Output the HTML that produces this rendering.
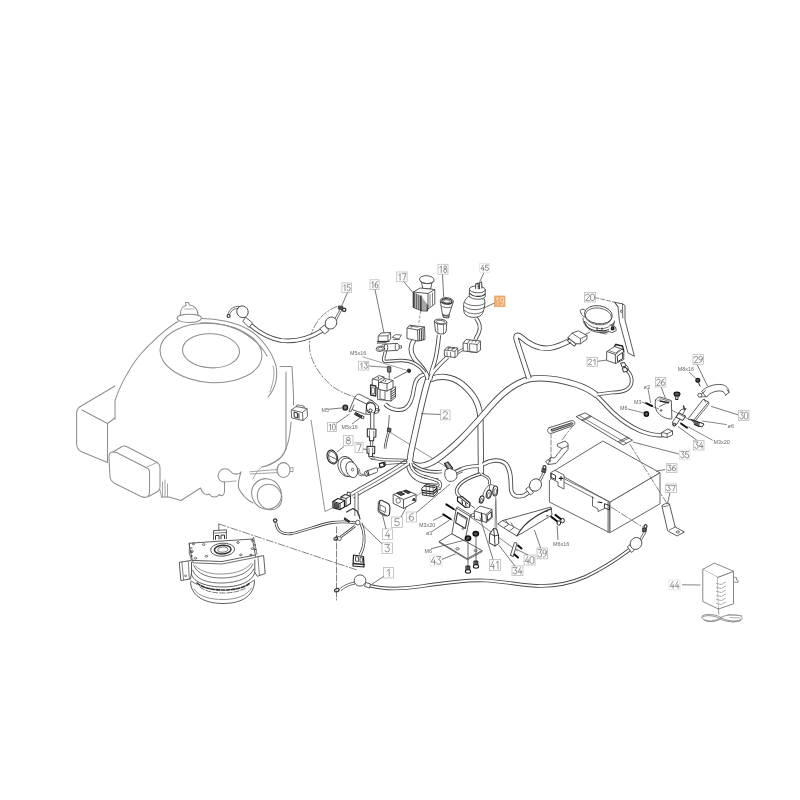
<!DOCTYPE html>
<html><head><meta charset="utf-8"><title>Wiring diagram</title>
<style>
html,body{margin:0;padding:0;background:#fff;}
svg{display:block;font-family:"Liberation Sans",sans-serif;}
</style></head><body>
<svg width="800" height="800" viewBox="0 0 800 800">
<defs><filter id="soft" x="0" y="0" width="800" height="800" filterUnits="userSpaceOnUse"><feGaussianBlur stdDeviation="0.35"/></filter></defs>
<rect width="800" height="800" fill="#fff"/>
<g filter="url(#soft)">
<path d="M178,321.5 C168,327 150,343 139,356 C128,370 118,390 115,401 L115,419" fill="none" stroke="#8e8e8e" stroke-width="1.05" stroke-linejoin="round" stroke-linecap="round" />
<path d="M202,318.5 C216,318.5 236,322 250,330.5 C262,338 272,352 276,366 C278,376 276,388 268,397" fill="none" stroke="#8e8e8e" stroke-width="1.05" stroke-linejoin="round" stroke-linecap="round" />
<path d="M200,323 C216,322 234,326 247,335 C256,341 263,348 267,356" fill="none" stroke="#8e8e8e" stroke-width="1.05" stroke-linejoin="round" stroke-linecap="round" />
<ellipse cx="211" cy="353" rx="51" ry="29.5" fill="none" stroke="#8e8e8e" stroke-width="1.05" transform="rotate(4 211 353)"/>
<ellipse cx="211" cy="350.8" rx="28.5" ry="17" fill="none" stroke="#8e8e8e" stroke-width="1.05" transform="rotate(3 211 350.8)"/>
<path d="M177,318 C177,324 201,324 201.5,318 C201.5,313 177,313 177,318 Z" fill="none" stroke="#8e8e8e" stroke-width="1.05" stroke-linejoin="round" stroke-linecap="round" />
<path d="M180.5,315 C180,309 183,306 186,305.5 L185.5,302.6 L188.5,302.5 L189.5,305 C194,305.5 198,309 198,314.5" fill="none" stroke="#8e8e8e" stroke-width="1.05" stroke-linejoin="round" stroke-linecap="round" />
<path d="M184,309 L194,309" fill="none" stroke="#8e8e8e" stroke-width="0.7" stroke-linejoin="round" stroke-linecap="round" />
<path d="M280,366.5 L292,366.5 L293.5,395 L293.5,405" fill="none" stroke="#8e8e8e" stroke-width="1.05" stroke-linejoin="round" stroke-linecap="round" />
<path d="M286,372 L286,449" fill="none" stroke="#8e8e8e" stroke-width="1.05" stroke-linejoin="round" stroke-linecap="round" />
<path d="M270,392 C274,380 275,372 273,366" fill="none" stroke="#8e8e8e" stroke-width="0.8" stroke-linejoin="round" stroke-linecap="round" />
<path d="M291,422 C290,440 286,452 280,458 C274,463 268,466 262,467" fill="none" stroke="#8e8e8e" stroke-width="1.05" stroke-linejoin="round" stroke-linecap="round" />
<path d="M286,449 C284,456 278,462 270,464" fill="none" stroke="#8e8e8e" stroke-width="0.8" stroke-linejoin="round" stroke-linecap="round" />
<path d="M115,386 L82,405.5 C78,407.5 76.6,410 76.6,413 L76.6,443 C76.6,448 78.5,450.5 82,452 L107.5,462.5" fill="none" stroke="#8e8e8e" stroke-width="1.05" stroke-linejoin="round" stroke-linecap="round" />
<path d="M82,410 L107.5,423.5 L107.5,462.5" fill="none" stroke="#8e8e8e" stroke-width="1.05" stroke-linejoin="round" stroke-linecap="round" />
<path d="M107.5,423.5 L115,418" fill="none" stroke="#8e8e8e" stroke-width="1.05" stroke-linejoin="round" stroke-linecap="round" />
<path d="M112.5,452 C110,452 109,454 109,457 L110,477 C110.5,480 112,482 115,483.5 L141,496.5 C146,498.5 149.5,497 149.5,492 L149.5,472 C149.5,470 148.5,468.5 146,467.5 L116.5,452.5 C115,452 113.5,452 112.5,452 Z" fill="none" stroke="#8e8e8e" stroke-width="1.05" stroke-linejoin="round" stroke-linecap="round" />
<path d="M113,452 L122,446.5 C123.5,445.8 125,445.8 126.5,446.5 L156.5,462 C159,463.5 160,465.5 160,468 L160,487 C160,490 158,491.5 156,492.5 L148.5,496.5" fill="none" stroke="#8e8e8e" stroke-width="1.05" stroke-linejoin="round" stroke-linecap="round" />
<path d="M146,467.5 L157,462.5" fill="none" stroke="#8e8e8e" stroke-width="0.8" stroke-linejoin="round" stroke-linecap="round" />
<path d="M160,489.5 L161.5,497 M162.5,482 L162.5,497 M165,480 L165,497 M167.5,484 L167.5,497" fill="none" stroke="#8e8e8e" stroke-width="0.8" stroke-linejoin="round" stroke-linecap="round" />
<path d="M161.5,497 L169,497 L181,500.5 L200.5,488 C202,493 206,496 209,494 C212,498 217,498 219,494.5 C222,497 225,495 224.5,490 L224.5,482" fill="none" stroke="#8e8e8e" stroke-width="1.05" stroke-linejoin="round" stroke-linecap="round" />
<path d="M224.5,482 C219,482 216,476 220,471 C222,468 228,468 230,471 C233,475 239,475 241,472" fill="none" stroke="#8e8e8e" stroke-width="1.05" stroke-linejoin="round" stroke-linecap="round" />
<path d="M241,472 C239,478 238,484 238.5,488 C242,495 247,500 253,503" fill="none" stroke="#8e8e8e" stroke-width="1.05" stroke-linejoin="round" stroke-linecap="round" />
<path d="M224.5,482 L236,481" fill="none" stroke="#8e8e8e" stroke-width="0.8" stroke-linejoin="round" stroke-linecap="round" />
<path d="M262,467 C258,470 255,474 253,479" fill="none" stroke="#8e8e8e" stroke-width="0.8" stroke-linejoin="round" stroke-linecap="round" />
<ellipse cx="266.5" cy="494" rx="14.6" ry="15.6" fill="none" stroke="#8e8e8e" stroke-width="1.05" transform="rotate(-35 266.5 494)"/>
<ellipse cx="269.6" cy="497" rx="11.8" ry="13.2" fill="none" stroke="#8e8e8e" stroke-width="1.05" transform="rotate(-35 269.6 497)"/>
<path d="M255.5,484 C258,480 262,478.5 266,478.5" fill="none" stroke="#8e8e8e" stroke-width="0.8" stroke-linejoin="round" stroke-linecap="round" />
<ellipse cx="283.5" cy="470" rx="6.6" ry="7.4" fill="none" stroke="#8e8e8e" stroke-width="1.05"/>
<path d="M250,471.8 L277,469.5 M250,474 L277,472.6" fill="none" stroke="#8e8e8e" stroke-width="0.8" stroke-linejoin="round" stroke-linecap="round" />
<path d="M290,468 L293,467.5 L293,471.5 L290,471.5" fill="none" stroke="#8e8e8e" stroke-width="0.8" stroke-linejoin="round" stroke-linecap="round" />
<path d="M279,464.5 C277,467 277,473 279,475.5" fill="none" stroke="#8e8e8e" stroke-width="0.7" stroke-linejoin="round" stroke-linecap="round" />
<path d="M190.6,582 C190.6,594 202,603.5 223,603.5 C244,603.5 254.5,594 254.5,581" fill="none" stroke="#4c4c4c" stroke-width="0.9" stroke-linejoin="round" stroke-linecap="round" />
<path d="M194,589 C199,597 211,599.5 223,599.5 C237,599.5 247,595.5 251.5,588" fill="none" stroke="#777" stroke-width="0.8" stroke-linejoin="round" stroke-linecap="round" />
<path d="M191.5,562 L191.5,574 C193,582 207,587 223,587 C240,587 253,581 254.8,572 L254.8,560" fill="none" stroke="#4c4c4c" stroke-width="0.9" stroke-linejoin="round" stroke-linecap="round" />
<path d="M193.5,565 C197,574 209,578.5 223,578 C238,577.5 249,573 253,564" fill="none" stroke="#4c4c4c" stroke-width="0.8" stroke-linejoin="round" stroke-linecap="round" />
<path d="M192.5,570 C196,579.5 208,583.5 223,583 C238,582.5 250,578 253.8,569" fill="none" stroke="#4c4c4c" stroke-width="0.8" stroke-linejoin="round" stroke-linecap="round" />
<path d="M195.5,566 C201,572 212,574.5 223,574 C236,573.5 246,570 251,563.5" fill="none" stroke="#666" stroke-width="0.7" stroke-linejoin="round" stroke-linecap="round" />
<path d="M197,583 C203,588 213,590 223,590 C234,590 244,588 250,583" fill="none" stroke="#333" stroke-width="1.6" stroke-linejoin="round" stroke-linecap="round" stroke-dasharray="3.5 1.6" />
<path d="M200,587 C206,591.5 214,593 223,593 C233,593 241,591 247,587.5" fill="none" stroke="#555" stroke-width="0.8" stroke-linejoin="round" stroke-linecap="round" stroke-dasharray="5 2" />
<path d="M191,581 L197,584.5 M254.5,580 L249,583.5" fill="none" stroke="#4c4c4c" stroke-width="0.8" stroke-linejoin="round" stroke-linecap="round" />
<path d="M189.3,543.2 L252.5,539 L255.3,555 L222,561.5 L192.7,560.4 Z" fill="#fff" stroke="#4c4c4c" stroke-width="0.9" stroke-linejoin="round" stroke-linecap="round" />
<path d="M192.7,560.4 L192.9,562.8 L222,564 L255.6,557.4 L255.3,555" fill="none" stroke="#4c4c4c" stroke-width="0.8" stroke-linejoin="round" stroke-linecap="round" />
<ellipse cx="222.6" cy="549.7" rx="12" ry="6.5" fill="none" stroke="#4c4c4c" stroke-width="0.9" transform="rotate(-3 222.6 549.7)"/>
<ellipse cx="222.7" cy="549.6" rx="8.3" ry="4.4" fill="none" stroke="#333" stroke-width="1.5" transform="rotate(-3 222.7 549.6)"/>
<ellipse cx="222.8" cy="549.6" rx="5" ry="2.6" fill="none" stroke="#4c4c4c" stroke-width="0.8" transform="rotate(-3 222.8 549.6)"/>
<ellipse cx="203.7" cy="544.6" rx="1.3" ry="0.9" fill="none" stroke="#4c4c4c" stroke-width="0.8"/>
<ellipse cx="238" cy="542.5" rx="1.3" ry="0.9" fill="none" stroke="#4c4c4c" stroke-width="0.8"/>
<ellipse cx="193.4" cy="543.9" rx="1.3" ry="0.9" fill="none" stroke="#4c4c4c" stroke-width="0.8"/>
<ellipse cx="252.5" cy="540.5" rx="1.3" ry="0.9" fill="none" stroke="#4c4c4c" stroke-width="0.8"/>
<ellipse cx="192" cy="551.5" rx="1.3" ry="0.9" fill="none" stroke="#4c4c4c" stroke-width="0.8"/>
<ellipse cx="252.5" cy="548.7" rx="1.3" ry="0.9" fill="none" stroke="#4c4c4c" stroke-width="0.8"/>
<ellipse cx="206.4" cy="556.3" rx="1.3" ry="0.9" fill="none" stroke="#4c4c4c" stroke-width="0.8"/>
<ellipse cx="240.8" cy="554.9" rx="1.3" ry="0.9" fill="none" stroke="#4c4c4c" stroke-width="0.8"/>
<ellipse cx="195.5" cy="558.3" rx="1.3" ry="0.9" fill="none" stroke="#4c4c4c" stroke-width="0.8"/>
<ellipse cx="251" cy="555" rx="1.3" ry="0.9" fill="none" stroke="#4c4c4c" stroke-width="0.8"/>
<path d="M213.5,539.6 L213.5,530.6 L226.4,529.8 L226.4,538.8" fill="#fff" stroke="#4c4c4c" stroke-width="0.9" stroke-linejoin="round" stroke-linecap="round" />
<path d="M213.5,533.2 L226.4,532.4" fill="none" stroke="#4c4c4c" stroke-width="0.7" stroke-linejoin="round" stroke-linecap="round" />
<path d="M215.5,539.3 L215.5,535.5 L219,535.5 L219,539 M221,538.8 L221,535.2 L224.5,535 L224.5,538.6" fill="none" stroke="#333" stroke-width="1" stroke-linejoin="round" stroke-linecap="round" />
<path d="M218.8,530.3 L218.8,524.2" fill="none" stroke="#4c4c4c" stroke-width="0.8" stroke-linejoin="round" stroke-linecap="round" />
<path d="M191,560.5 L179.3,562.3 L180.8,580.5 L190.5,579 L191.3,574" fill="none" stroke="#4c4c4c" stroke-width="0.9" stroke-linejoin="round" stroke-linecap="round" />
<path d="M182,562.5 L183.5,579.8 M188.3,561.5 L189.3,578.8" fill="none" stroke="#4c4c4c" stroke-width="0.7" stroke-linejoin="round" stroke-linecap="round" />
<ellipse cx="185.6" cy="575.8" rx="1" ry="1" fill="none" stroke="#4c4c4c" stroke-width="0.7"/>
<path d="M189.6,543.5 L189.2,553 L191.5,560" fill="none" stroke="#4c4c4c" stroke-width="0.8" stroke-linejoin="round" stroke-linecap="round" />
<path d="M190.8,548 L192,548 M190.8,552 L192,552 M191.3,556 L192.4,556" fill="none" stroke="#333" stroke-width="0.9" stroke-linejoin="round" stroke-linecap="round" />
<path d="M256,557 L263.6,555.6 L265.2,573.5 L257.4,576.3 L254.8,572.5" fill="none" stroke="#4c4c4c" stroke-width="0.9" stroke-linejoin="round" stroke-linecap="round" />
<path d="M258,557 L259.4,575" fill="none" stroke="#4c4c4c" stroke-width="0.7" stroke-linejoin="round" stroke-linecap="round" />
<path d="M252.5,539 L253.6,537 L257,554.5" fill="none" stroke="#4c4c4c" stroke-width="0.7" stroke-linejoin="round" stroke-linecap="round" />
<path d="M254.4,545 L255.6,545 M255,549.5 L256.2,549.5" fill="none" stroke="#333" stroke-width="0.9" stroke-linejoin="round" stroke-linecap="round" />
<path d="M337,306.5 C323,312 313,323 309.5,341 C308,358 318,374 332,386 C340,392 350,396 358,397.5" fill="none" stroke="#666" stroke-width="0.8" stroke-linejoin="round" stroke-linecap="round" stroke-dasharray="7 2 1.5 2" />
<path d="M219,524 L357,570" fill="none" stroke="#666" stroke-width="0.8" stroke-linejoin="round" stroke-linecap="round" stroke-dasharray="7 2 1.5 2" />
<path d="M336.5,527 L336.5,600" fill="none" stroke="#666" stroke-width="0.8" stroke-linejoin="round" stroke-linecap="round" stroke-dasharray="6 2" />
<path d="M574,424 L562,440" fill="none" stroke="#666" stroke-width="0.8" stroke-linejoin="round" stroke-linecap="round" stroke-dasharray="7 2 1.5 2" />
<path d="M551,433 L551,457" fill="none" stroke="#666" stroke-width="0.8" stroke-linejoin="round" stroke-linecap="round" stroke-dasharray="5 2" />
<path d="M595,297.5 L616,302.5" fill="none" stroke="#666" stroke-width="0.8" stroke-linejoin="round" stroke-linecap="round" stroke-dasharray="4 2" />
<path d="M496,500 L497,535" fill="none" stroke="#666" stroke-width="0.7" stroke-linejoin="round" stroke-linecap="round" />
<path d="M311,420 L325,511.5 L334.5,507" fill="none" stroke="#777" stroke-width="0.8" stroke-linejoin="round" stroke-linecap="round" />
<path d="M389.6,432 L448,468" fill="none" stroke="#666" stroke-width="0.7" stroke-linejoin="round" stroke-linecap="round" />
<path d="M249.5,324 C257,331 268,338 281,340.5 C295,342 310,338 322,330.5" fill="none" stroke="#4a4a4a" stroke-width="4.6" stroke-linecap="butt" stroke-linejoin="round"/>
<path d="M249.5,324 C257,331 268,338 281,340.5 C295,342 310,338 322,330.5" fill="none" stroke="#fff" stroke-width="2.8" stroke-linecap="butt" stroke-linejoin="round"/>
<path d="M246,317.5 L252.5,323 L249,327.5 L243,321.5 Z" fill="#fff" stroke="#4a4a4a" stroke-width="0.9" stroke-linejoin="round" stroke-linecap="round" />
<ellipse cx="242.5" cy="311.8" rx="5.6" ry="6" fill="#fff" stroke="#4a4a4a" stroke-width="0.9" transform="rotate(-35 242.5 311.8)"/>
<path d="M238,308.5 C234,308 231,311 229.5,314.5 M239.5,306.5 C234,305.5 229.5,309 228,314" fill="none" stroke="#4a4a4a" stroke-width="0.8" stroke-linejoin="round" stroke-linecap="round" />
<ellipse cx="228.6" cy="316" rx="1.5" ry="1.5" fill="none" stroke="#333" stroke-width="1.2"/>
<path d="M320,329 L324.5,334 L329,330.5 L324.5,325.5 Z" fill="#fff" stroke="#4a4a4a" stroke-width="0.9" stroke-linejoin="round" stroke-linecap="round" />
<ellipse cx="331" cy="323" rx="5.6" ry="6.2" fill="#fff" stroke="#4a4a4a" stroke-width="0.9" transform="rotate(35 331 323)"/>
<path d="M335,318.5 L340.5,308.5 M336.8,319.5 L342,309.5" fill="none" stroke="#4a4a4a" stroke-width="0.8" stroke-linejoin="round" stroke-linecap="round" />
<path d="M339,306 L343,306.5 L342.5,309.5 L338.6,309 Z" fill="#555" stroke="#333" stroke-width="0.9" stroke-linejoin="round" stroke-linecap="round" />
<ellipse cx="344.2" cy="309.8" rx="1.7" ry="1.7" fill="none" stroke="#333" stroke-width="1.3"/>
<path d="M430,379.5 C440,375 452,376 462,384 C474,394 480,404 480.5,420 L481,476" fill="none" stroke="#4a4a4a" stroke-width="6.2" stroke-linecap="butt" stroke-linejoin="round"/>
<path d="M430,379.5 C440,375 452,376 462,384 C474,394 480,404 480.5,420 L481,476" fill="none" stroke="#fff" stroke-width="4.4" stroke-linecap="butt" stroke-linejoin="round"/>
<path d="M663,435 C648,436.5 630,428 614,413.5 C606,406 601,399.5 594,393.5" fill="none" stroke="#4a4a4a" stroke-width="4.6" stroke-linecap="butt" stroke-linejoin="round"/>
<path d="M663,435 C648,436.5 630,428 614,413.5 C606,406 601,399.5 594,393.5" fill="none" stroke="#fff" stroke-width="2.8" stroke-linecap="butt" stroke-linejoin="round"/>
<path d="M597,395.5 C590,390 584,387 576,384.5 C560,379.5 545,376.5 530,379 C510,383.5 495,401 484,414 C470,430 455,447 436,460 C427,466 417,468 410,463" fill="none" stroke="#4a4a4a" stroke-width="6.5" stroke-linecap="butt" stroke-linejoin="round"/>
<path d="M428.5,379 C424,391 417,425 411,452 L409.5,463" fill="none" stroke="#4a4a4a" stroke-width="6.5" stroke-linecap="butt" stroke-linejoin="round"/>
<path d="M409.5,460 C408,470 414,478 424,480.5 L438,481.5" fill="none" stroke="#4a4a4a" stroke-width="6.5" stroke-linecap="butt" stroke-linejoin="round"/>
<path d="M597,395.5 C590,390 584,387 576,384.5 C560,379.5 545,376.5 530,379 C510,383.5 495,401 484,414 C470,430 455,447 436,460 C427,466 417,468 410,463" fill="none" stroke="#fff" stroke-width="4.7" stroke-linecap="butt" stroke-linejoin="round"/>
<path d="M428.5,379 C424,391 417,425 411,452 L409.5,463" fill="none" stroke="#fff" stroke-width="4.7" stroke-linecap="butt" stroke-linejoin="round"/>
<path d="M409.5,460 C408,470 414,478 424,480.5 L438,481.5" fill="none" stroke="#fff" stroke-width="4.7" stroke-linecap="butt" stroke-linejoin="round"/>
<path d="M529,378.5 L516.5,340 C515,335 517.5,334 521,337 C530,345 540,349.5 550,348 C559,346.5 565,343 570,340.5" fill="none" stroke="#4a4a4a" stroke-width="5.6" stroke-linecap="butt" stroke-linejoin="round"/>
<path d="M529,378.5 L516.5,340 C515,335 517.5,334 521,337 C530,345 540,349.5 550,348 C559,346.5 565,343 570,340.5" fill="none" stroke="#fff" stroke-width="3.8" stroke-linecap="butt" stroke-linejoin="round"/>
<path d="M414.5,339 C410.5,345 410,352 414,358 C418,364.5 426,369 428.2,379.5" fill="none" stroke="#4a4a4a" stroke-width="5" stroke-linecap="butt" stroke-linejoin="round"/>
<path d="M414.5,339 C410.5,345 410,352 414,358 C418,364.5 426,369 428.2,379.5" fill="none" stroke="#fff" stroke-width="3.2" stroke-linecap="butt" stroke-linejoin="round"/>
<path d="M439,335 C438,345 437,355 434,364 C432.5,368 431.5,371 431,374" fill="none" stroke="#4a4a4a" stroke-width="4.3" stroke-linecap="butt" stroke-linejoin="round"/>
<path d="M447.5,357 C443,361 438,366 433.5,371.5 C431.5,374 430.5,377 430,380" fill="none" stroke="#4a4a4a" stroke-width="4.3" stroke-linecap="butt" stroke-linejoin="round"/>
<path d="M439,335 C438,345 437,355 434,364 C432.5,368 431.5,371 431,374" fill="none" stroke="#fff" stroke-width="2.5" stroke-linecap="butt" stroke-linejoin="round"/>
<path d="M447.5,357 C443,361 438,366 433.5,371.5 C431.5,374 430.5,377 430,380" fill="none" stroke="#fff" stroke-width="2.5" stroke-linecap="butt" stroke-linejoin="round"/>
<path d="M385,404 C390,409.5 399,411.5 405,408.5 C411,405 413,396 414,388 C415,381 418,376 424,374.5" fill="none" stroke="#4a4a4a" stroke-width="4.2" stroke-linecap="butt" stroke-linejoin="round"/>
<path d="M385,404 C390,409.5 399,411.5 405,408.5 C411,405 413,396 414,388 C415,381 418,376 424,374.5" fill="none" stroke="#fff" stroke-width="2.4000000000000004" stroke-linecap="butt" stroke-linejoin="round"/>
<path d="M385.5,351 C384.5,356 382,360.5 385,361.5 L400,360.5 C410,360 419,364 425,373" fill="none" stroke="#4a4a4a" stroke-width="3.4" stroke-linecap="butt" stroke-linejoin="round"/>
<path d="M385.5,351 C384.5,356 382,360.5 385,361.5 L400,360.5 C410,360 419,364 425,373" fill="none" stroke="#fff" stroke-width="1.5999999999999999" stroke-linecap="butt" stroke-linejoin="round"/>
<path d="M476,318 C479,322 481,327 479,332 C478,335 476,337 475.5,339.5" fill="none" stroke="#4a4a4a" stroke-width="4" stroke-linecap="butt" stroke-linejoin="round"/>
<path d="M476,318 C479,322 481,327 479,332 C478,335 476,337 475.5,339.5" fill="none" stroke="#fff" stroke-width="2.2" stroke-linecap="butt" stroke-linejoin="round"/>
<path d="M457.5,351.5 L464,347.5 M457.5,354 L464,350" fill="none" stroke="#4a4a4a" stroke-width="0.8" stroke-linejoin="round" stroke-linecap="round" />
<path d="M623.5,368 C628,370 633,376 631.5,383 C630,390 622,392.5 612,392.5 L597,394.5" fill="none" stroke="#4a4a4a" stroke-width="3.6" stroke-linecap="butt" stroke-linejoin="round"/>
<path d="M623.5,368 C628,370 633,376 631.5,383 C630,390 622,392.5 612,392.5 L597,394.5" fill="none" stroke="#fff" stroke-width="1.8" stroke-linecap="butt" stroke-linejoin="round"/>
<path d="M407,462.5 C396,470 376,482 362,489.5 L352,495.5" fill="none" stroke="#4a4a4a" stroke-width="7" stroke-linecap="butt" stroke-linejoin="round"/>
<path d="M407,462.5 C396,470 376,482 362,489.5 L352,495.5" fill="none" stroke="#fff" stroke-width="5.2" stroke-linecap="butt" stroke-linejoin="round"/>
<path d="M407,462.5 C396,470 376,482 362,489.5 L352,495.5" fill="none" stroke="#4a4a4a" stroke-width="0.8" stroke-linejoin="round" stroke-linecap="round" />
<path d="M407,459.5 C395,458 382,460 372,456 M407,461.5 C395,460.5 382,462.5 371,458.5 M406,463.5 C396,463 388,465 384,464.5" fill="none" stroke="#4a4a4a" stroke-width="0.8" stroke-linejoin="round" stroke-linecap="round" />
<path d="M381,463 L385,462 L385.5,465.5 L381.5,466.5 Z" fill="#555" stroke="#333" stroke-width="0.9" stroke-linejoin="round" stroke-linecap="round" />
<path d="M380,466 C378,468 377,470 376.5,471.5" fill="none" stroke="#4a4a4a" stroke-width="0.8" stroke-linejoin="round" stroke-linecap="round" />
<path d="M412,463.5 C418,470 430,473 442,471.5" fill="none" stroke="#4a4a4a" stroke-width="3.6" stroke-linecap="butt" stroke-linejoin="round"/>
<path d="M412,463.5 C418,470 430,473 442,471.5" fill="none" stroke="#fff" stroke-width="1.8" stroke-linecap="butt" stroke-linejoin="round"/>
<path d="M480.5,474 C470,477 458,482 456.5,491 C456.5,495 460,497 463,499.5" fill="none" stroke="#4a4a4a" stroke-width="3.6" stroke-linecap="butt" stroke-linejoin="round"/>
<path d="M480.5,474 C470,477 458,482 456.5,491 C456.5,495 460,497 463,499.5" fill="none" stroke="#fff" stroke-width="1.8" stroke-linecap="butt" stroke-linejoin="round"/>
<path d="M479,466 C470,466 462,468 455,472" fill="none" stroke="#4a4a4a" stroke-width="4.2" stroke-linecap="butt" stroke-linejoin="round"/>
<path d="M479,466 C470,466 462,468 455,472" fill="none" stroke="#fff" stroke-width="2.4000000000000004" stroke-linecap="butt" stroke-linejoin="round"/>
<path d="M481,473.5 C484,476.5 488.5,476 489.3,480 L489.7,484.5" fill="none" stroke="#4a4a4a" stroke-width="2.8" stroke-linecap="butt" stroke-linejoin="round"/>
<path d="M481,473.5 C484,476.5 488.5,476 489.3,480 L489.7,484.5" fill="none" stroke="#fff" stroke-width="1.1999999999999997" stroke-linecap="butt" stroke-linejoin="round"/>
<path d="M489,485 C486,488 483.5,491 482.8,495.5 M489.7,485 L489.2,490 M490.5,484.8 C493,484.5 495,485.5 495.6,487" fill="none" stroke="#4a4a4a" stroke-width="0.8" stroke-linejoin="round" stroke-linecap="round" />
<ellipse cx="481.6" cy="499.5" rx="2.1" ry="3.7" fill="#fff" stroke="#333" stroke-width="1.1" transform="rotate(18 481.6 499.5)"/>
<ellipse cx="481.6" cy="500.3" rx="1.0" ry="1.9000000000000001" fill="none" stroke="#4a4a4a" stroke-width="0.7" transform="rotate(18 481.6 500.3)"/>
<ellipse cx="488.8" cy="494.2" rx="2.4" ry="4.2" fill="#fff" stroke="#333" stroke-width="1.1" transform="rotate(12 488.8 494.2)"/>
<ellipse cx="488.8" cy="495.0" rx="1.2999999999999998" ry="2.4000000000000004" fill="none" stroke="#4a4a4a" stroke-width="0.7" transform="rotate(12 488.8 495.0)"/>
<ellipse cx="495.2" cy="491" rx="2.4" ry="5" fill="#fff" stroke="#333" stroke-width="1.1" transform="rotate(6 495.2 491)"/>
<ellipse cx="495.2" cy="491.8" rx="1.2999999999999998" ry="3.2" fill="none" stroke="#4a4a4a" stroke-width="0.7" transform="rotate(6 495.2 491.8)"/>
<path d="M483,464.5 C490,460 500,458.5 506,464 C511,470 511,480 511,488 C511,496.5 518,497.5 524,495.5 L528.5,492.5" fill="none" stroke="#4a4a4a" stroke-width="4.4" stroke-linecap="butt" stroke-linejoin="round"/>
<path d="M483,464.5 C490,460 500,458.5 506,464 C511,470 511,480 511,488 C511,496.5 518,497.5 524,495.5 L528.5,492.5" fill="none" stroke="#fff" stroke-width="2.6000000000000005" stroke-linecap="butt" stroke-linejoin="round"/>
<path d="M526,489.5 L530.5,495 L533.5,492.5 L529,487 Z" fill="#fff" stroke="#4a4a4a" stroke-width="0.9" stroke-linejoin="round" stroke-linecap="round" />
<ellipse cx="535.5" cy="485" rx="5.8" ry="6.4" fill="#fff" stroke="#4a4a4a" stroke-width="0.9" transform="rotate(35 535.5 485)"/>
<path d="M539,480 L543.5,471.5 M540.8,481 L545,472.5" fill="none" stroke="#4a4a4a" stroke-width="0.8" stroke-linejoin="round" stroke-linecap="round" />
<path d="M542.5,468.5 L546,469 L545.5,472.5 L542,472 Z" fill="#555" stroke="#333" stroke-width="0.9" stroke-linejoin="round" stroke-linecap="round" />
<ellipse cx="544.5" cy="467.5" rx="1.5" ry="1.8" fill="none" stroke="#333" stroke-width="1.2"/>
<path d="M630.5,549 C620,557 600,570 585,577 C570,583.5 556,586 541,586 C525,586 505,581.5 485,580.5 C465,579.5 440,583.5 420,586.5 C400,589.5 382,589 369,585.5" fill="none" stroke="#4a4a4a" stroke-width="3.6" stroke-linecap="butt" stroke-linejoin="round"/>
<path d="M630.5,549 C620,557 600,570 585,577 C570,583.5 556,586 541,586 C525,586 505,581.5 485,580.5 C465,579.5 440,583.5 420,586.5 C400,589.5 382,589 369,585.5" fill="none" stroke="#fff" stroke-width="1.8" stroke-linecap="butt" stroke-linejoin="round"/>
<path d="M627.5,547 L631.5,552.5 L634.5,550 L630.5,544.8 Z" fill="#fff" stroke="#4a4a4a" stroke-width="0.9" stroke-linejoin="round" stroke-linecap="round" />
<ellipse cx="636" cy="543.5" rx="5.6" ry="6.2" fill="#fff" stroke="#4a4a4a" stroke-width="0.9" transform="rotate(35 636 543.5)"/>
<path d="M640,539 L644,531.5 M641.6,540 L645.8,532.5" fill="none" stroke="#4a4a4a" stroke-width="0.8" stroke-linejoin="round" stroke-linecap="round" />
<path d="M643,528 L646.5,528.5 L646,532 L642.6,531.5 Z" fill="#555" stroke="#333" stroke-width="0.9" stroke-linejoin="round" stroke-linecap="round" />
<ellipse cx="645.5" cy="526.5" rx="1.4" ry="1.9" fill="none" stroke="#333" stroke-width="1.2" transform="rotate(20 645.5 526.5)"/>
<path d="M366,582.5 L370.5,584 L369.5,588 L365,586.5 Z" fill="#fff" stroke="#4a4a4a" stroke-width="0.9" stroke-linejoin="round" stroke-linecap="round" />
<ellipse cx="360" cy="580.5" rx="5.8" ry="5.6" fill="#fff" stroke="#4a4a4a" stroke-width="0.9"/>
<path d="M354.5,582 C348,583 343,586 340,588.5 M355,584 C349,585 344,588 341,590.5" fill="none" stroke="#4a4a4a" stroke-width="0.8" stroke-linejoin="round" stroke-linecap="round" />
<ellipse cx="336.8" cy="590.2" rx="2.3" ry="1.6" fill="none" stroke="#333" stroke-width="1.2" transform="rotate(-20 336.8 590.2)"/>
<ellipse cx="275.2" cy="520.6" rx="1.7" ry="1.7" fill="none" stroke="#333" stroke-width="1.3"/>
<path d="M276,523 C277,531 282,535 292,533.5 C305,531 318,525 332,522.5 C340,521.5 348,521.5 356,523" fill="none" stroke="#4a4a4a" stroke-width="2.8" stroke-linecap="butt" stroke-linejoin="round"/>
<path d="M276,523 C277,531 282,535 292,533.5 C305,531 318,525 332,522.5 C340,521.5 348,521.5 356,523" fill="none" stroke="#fff" stroke-width="1.1999999999999997" stroke-linecap="butt" stroke-linejoin="round"/>
<path d="M421.5,282 L422.8,288.5 L430.6,289 L432,282.5" fill="#fff" stroke="#4a4a4a" stroke-width="0.9" stroke-linejoin="round" stroke-linecap="round" />
<ellipse cx="426.8" cy="279.6" rx="7.3" ry="3.9" fill="#fff" stroke="#4a4a4a" stroke-width="0.9" transform="rotate(4 426.8 279.6)"/>
<path d="M420,281 C421,284 432,285 434,281.5" fill="none" stroke="#4a4a4a" stroke-width="0.8" stroke-linejoin="round" stroke-linecap="round" />
<path d="M413.5,292 L420,288 L434.8,289.5 L434.8,304 L428,309 L413.5,307.5 Z" fill="#fff" stroke="#4a4a4a" stroke-width="0.9" stroke-linejoin="round" stroke-linecap="round" />
<path d="M413.5,292 L428,293.5 L434.8,289.5 M428,293.5 L428,309" fill="none" stroke="#4a4a4a" stroke-width="0.9" stroke-linejoin="round" stroke-linecap="round" />
<path d="M413.5,292 L413.5,307.5 L421,310.5 L421,296" fill="#6a6a6a" stroke="#333" stroke-width="0.9" stroke-linejoin="round" stroke-linecap="round" />
<path d="M415.5,293.5 L415.5,308 M417.5,294 L417.5,309 M419.3,294 L419.3,309.5" fill="none" stroke="#ddd" stroke-width="0.6" stroke-linejoin="round" stroke-linecap="round" />
<path d="M421,296 L421,310.8 L427.5,311 L427.8,305" fill="#8a8a8a" stroke="#333" stroke-width="0.9" stroke-linejoin="round" stroke-linecap="round" />
<path d="M423,297 L423,310.5 M425,298 L425,310.5" fill="none" stroke="#e8e8e8" stroke-width="0.6" stroke-linejoin="round" stroke-linecap="round" />
<path d="M430,294.5 L430,306.5 M432.5,293 L432.5,305" fill="none" stroke="#4a4a4a" stroke-width="0.7" stroke-linejoin="round" stroke-linecap="round" />
<line x1="420.6" y1="311" x2="418.6" y2="324.6" stroke="#666" stroke-width="0.7" stroke-dasharray="3 1.5"/>
<path d="M407.3,328 L409.5,325.2 L424.5,327 L425,339.5 L418,341 L407.3,338.5 Z" fill="#fff" stroke="#4a4a4a" stroke-width="0.9" stroke-linejoin="round" stroke-linecap="round" />
<path d="M407.3,328 L417.5,330 L418,341 M417.5,330 L424.5,327" fill="none" stroke="#4a4a4a" stroke-width="0.9" stroke-linejoin="round" stroke-linecap="round" />
<path d="M419.5,329.8 L419.8,340.6 M421.3,329.3 L421.6,340.2 M423,328.6 L423.3,339.8" fill="none" stroke="#333" stroke-width="0.9" stroke-linejoin="round" stroke-linecap="round" />
<path d="M410,326 L418,327.2 M411.5,325.6 L411.2,327.5" fill="none" stroke="#4a4a4a" stroke-width="0.7" stroke-linejoin="round" stroke-linecap="round" />
<path d="M440.3,301.5 L442.3,313.5 C443.5,315.5 448,316 449.3,314 L453.2,302 Z" fill="#fff" stroke="#4a4a4a" stroke-width="0.9" stroke-linejoin="round" stroke-linecap="round" />
<ellipse cx="446.8" cy="301" rx="6.5" ry="3.4" fill="#fff" stroke="#4a4a4a" stroke-width="0.9" transform="rotate(5 446.8 301)"/>
<ellipse cx="446.8" cy="301.2" rx="5" ry="2.5" fill="none" stroke="#333" stroke-width="1.1" transform="rotate(5 446.8 301.2)"/>
<ellipse cx="446.8" cy="301.4" rx="3.4" ry="1.6" fill="none" stroke="#4a4a4a" stroke-width="0.8" transform="rotate(5 446.8 301.4)"/>
<path d="M441.5,306 C444,308 450,308.5 452,306.5" fill="none" stroke="#4a4a4a" stroke-width="0.8" stroke-linejoin="round" stroke-linecap="round" />
<path d="M442.5,314 L443.5,317.5 L448.5,318 L449.3,314.5 M443,315.8 L449,316.3" fill="none" stroke="#333" stroke-width="0.9" stroke-linejoin="round" stroke-linecap="round" />
<path d="M434.3,321.5 L435.5,331 C437,334.5 444,335 446,332 L446.8,322.5 Z" fill="#fff" stroke="#4a4a4a" stroke-width="0.9" stroke-linejoin="round" stroke-linecap="round" />
<ellipse cx="440.6" cy="321.8" rx="6.2" ry="2.6" fill="#fff" stroke="#4a4a4a" stroke-width="0.9" transform="rotate(6 440.6 321.8)"/>
<ellipse cx="440.6" cy="322" rx="4.4" ry="1.6" fill="none" stroke="#4a4a4a" stroke-width="0.8" transform="rotate(6 440.6 322)"/>
<path d="M437.5,324.5 L438,333.5 M443.5,325 L443.5,334" fill="none" stroke="#4a4a4a" stroke-width="0.7" stroke-linejoin="round" stroke-linecap="round" />
<path d="M463.5,308 C463,303 465,299 468.5,296.5 L484.5,299 C485.5,303 484.5,309 482.5,313.5 C480,318.5 468,319 464.5,313.5 Z" fill="#fff" stroke="#4a4a4a" stroke-width="0.9" stroke-linejoin="round" stroke-linecap="round" />
<path d="M464.5,302.5 C469,306.5 481,307 485,303 M463.8,306 C468,310.5 480,311 484.3,307 M463.7,309.5 C467,314.5 479,315.5 483.5,311" fill="none" stroke="#4a4a4a" stroke-width="0.8" stroke-linejoin="round" stroke-linecap="round" />
<path d="M469.5,289.5 L469.3,296 C471,300 484,300.5 485.2,296.5 L485.2,289.5" fill="#fff" stroke="#4a4a4a" stroke-width="0.9" stroke-linejoin="round" stroke-linecap="round" />
<ellipse cx="477.3" cy="289.4" rx="7.9" ry="3.4" fill="#fff" stroke="#4a4a4a" stroke-width="0.9" transform="rotate(3 477.3 289.4)"/>
<path d="M470,293.5 C473,297 482,297.5 485,294" fill="none" stroke="#333" stroke-width="1.1" stroke-linejoin="round" stroke-linecap="round" />
<path d="M475.6,288.5 L475.8,284 L478,283 L478.3,288.8 M479.5,288.8 L479.6,282.8 L481.6,281.8 L481.9,288.2" fill="#fff" stroke="#333" stroke-width="0.9" stroke-linejoin="round" stroke-linecap="round" />
<path d="M475.8,284 L479.6,282.8" fill="none" stroke="#333" stroke-width="0.8" stroke-linejoin="round" stroke-linecap="round" />
<path d="M463.3,343 L466,339.5 L480.4,341 L480.6,350 L477,352.5 L463.5,351 Z" fill="#fff" stroke="#4a4a4a" stroke-width="0.9" stroke-linejoin="round" stroke-linecap="round" />
<path d="M463.3,343 L467.5,343.6 L467.8,351.5 M467.5,343.6 L470,340" fill="none" stroke="#4a4a4a" stroke-width="0.8" stroke-linejoin="round" stroke-linecap="round" />
<path d="M469.5,344 L469.8,351.8 L477,352.5 L477,344.8 Z" fill="none" stroke="#4a4a4a" stroke-width="0.8" stroke-linejoin="round" stroke-linecap="round" />
<path d="M477,344.8 L480.4,341" fill="none" stroke="#4a4a4a" stroke-width="0.8" stroke-linejoin="round" stroke-linecap="round" />
<path d="M472,342 L472.5,340.3 L476,340.7 L475.8,342.3" fill="none" stroke="#4a4a4a" stroke-width="0.7" stroke-linejoin="round" stroke-linecap="round" />
<path d="M444.6,350 L447.5,346.8 L457.6,348 L457.8,355 L455,357.5 L444.8,356.2 Z" fill="#fff" stroke="#4a4a4a" stroke-width="0.9" stroke-linejoin="round" stroke-linecap="round" />
<path d="M444.6,350 L455,351.3 L455,357.5 M455,351.3 L457.6,348" fill="none" stroke="#4a4a4a" stroke-width="0.8" stroke-linejoin="round" stroke-linecap="round" />
<path d="M448,349.6 L448.2,347.8 L450.2,348 M452,350 L452.2,348.2 L454.3,348.5" fill="none" stroke="#333" stroke-width="0.9" stroke-linejoin="round" stroke-linecap="round" />
<path d="M447,352 L447.2,356.3 M450.5,352.5 L450.6,356.8" fill="none" stroke="#4a4a4a" stroke-width="0.7" stroke-linejoin="round" stroke-linecap="round" />
<path d="M378.5,336 L381,333 L390.5,332.5 L390.8,339 L388,341.5 L378.6,341.5 Z" fill="#fff" stroke="#4a4a4a" stroke-width="0.9" stroke-linejoin="round" stroke-linecap="round" />
<path d="M378.5,336 L388,335.8 L388,341.5 M388,335.8 L390.5,332.5" fill="none" stroke="#4a4a4a" stroke-width="0.8" stroke-linejoin="round" stroke-linecap="round" />
<path d="M377.5,341.5 L389,341.3 M377.3,343 L386,342.8" fill="none" stroke="#333" stroke-width="1.1" stroke-linejoin="round" stroke-linecap="round" />
<path d="M392.5,337 L395.5,334.6 L401.5,335 L399,338.8 Z" fill="#fff" stroke="#4a4a4a" stroke-width="0.8" stroke-linejoin="round" stroke-linecap="round" />
<path d="M393.5,339.6 L399.5,339.4" fill="none" stroke="#4a4a4a" stroke-width="0.8" stroke-linejoin="round" stroke-linecap="round" />
<path d="M386,344 L397,343.4 C400,343.4 400,350.4 397,350.4 L386,351 Z" fill="#fff" stroke="#4a4a4a" stroke-width="0.9" stroke-linejoin="round" stroke-linecap="round" />
<ellipse cx="386" cy="347.5" rx="1.8" ry="3.5" fill="#fff" stroke="#4a4a4a" stroke-width="0.9"/>
<path d="M396.2,343.6 C394.6,345 394.6,349 396.2,350.4" fill="none" stroke="#4a4a4a" stroke-width="0.8" stroke-linejoin="round" stroke-linecap="round" />
<path d="M399.3,346 L401.5,345.8 L401.5,348 L399.3,348.2" fill="none" stroke="#4a4a4a" stroke-width="0.8" stroke-linejoin="round" stroke-linecap="round" />
<ellipse cx="380.3" cy="348.8" rx="4.2" ry="2.6" fill="none" stroke="#4a4a4a" stroke-width="0.9" transform="rotate(-8 380.3 348.8)"/>
<ellipse cx="380.3" cy="348.8" rx="2.6" ry="1.4" fill="none" stroke="#4a4a4a" stroke-width="0.7" transform="rotate(-8 380.3 348.8)"/>
<path d="M382,345 L385,344.6" fill="none" stroke="#4a4a4a" stroke-width="0.8" stroke-linejoin="round" stroke-linecap="round" />
<path d="M378,388 L391,389.5 L395.4,386.5 L395.4,397.5 L391,401 L378,399.5 Z" fill="#fff" stroke="#4a4a4a" stroke-width="0.9" stroke-linejoin="round" stroke-linecap="round" />
<path d="M391,389.5 L391,401" fill="none" stroke="#4a4a4a" stroke-width="0.9" stroke-linejoin="round" stroke-linecap="round" />
<path d="M391,392 L395.4,389 M391,394.3 L395.4,391.3 M391,396.6 L395.4,393.6 M391,398.8 L395.4,395.8" fill="none" stroke="#333" stroke-width="0.9" stroke-linejoin="round" stroke-linecap="round" />
<path d="M380,390 L380,399 L385,399.6 L385,390.6 Z" fill="none" stroke="#4a4a4a" stroke-width="0.8" stroke-linejoin="round" stroke-linecap="round" />
<path d="M379,382 L385,378.5 L393,380.5 L393,388 L387,391 L379,389.5 Z" fill="#fff" stroke="#4a4a4a" stroke-width="0.9" stroke-linejoin="round" stroke-linecap="round" />
<path d="M379,382 L387,383.8 L393,380.5 M387,383.8 L387,391" fill="none" stroke="#4a4a4a" stroke-width="0.9" stroke-linejoin="round" stroke-linecap="round" />
<ellipse cx="385.5" cy="381" rx="0.5" ry="0.5" fill="none" stroke="#333" stroke-width="0.8"/>
<path d="M372.6,379 L379,375.6 L384,377 L384,380 L378.5,383 L378.5,388 L372.6,387 Z" fill="#fff" stroke="#4a4a4a" stroke-width="0.9" stroke-linejoin="round" stroke-linecap="round" />
<path d="M372.6,379 L378.5,380.3 L384,377 M378.5,380.3 L378.5,386" fill="none" stroke="#4a4a4a" stroke-width="0.9" stroke-linejoin="round" stroke-linecap="round" />
<ellipse cx="378.3" cy="378" rx="0.5" ry="0.5" fill="none" stroke="#333" stroke-width="0.8"/>
<path d="M370.6,385 L375.8,386 L375.8,396 L370.6,395 Z" fill="#fff" stroke="#333" stroke-width="1.3" stroke-linejoin="round" stroke-linecap="round" />
<path d="M372,387.5 L374.5,388 L374.5,394 L372,393.5 Z" fill="none" stroke="#4a4a4a" stroke-width="0.7" stroke-linejoin="round" stroke-linecap="round" />
<path d="M387.8,366.5 L390.8,366.8 L390.8,372.2 L387.8,372 Z" fill="#777" stroke="#333" stroke-width="0.9" stroke-linejoin="round" stroke-linecap="round" />
<line x1="389.3" y1="372.2" x2="389.3" y2="379" stroke="#555" stroke-width="0.8"/>
<ellipse cx="408.9" cy="370.8" rx="1.7" ry="1.7" fill="#333" stroke="#222" stroke-width="1"/>
<line x1="394" y1="378.6" x2="407.5" y2="371.5" stroke="#444" stroke-width="0.8"/>
<line x1="362.5" y1="356.8" x2="406" y2="370" stroke="#777" stroke-width="0.7"/>
<line x1="368.7" y1="366" x2="387.5" y2="367.4" stroke="#666" stroke-width="0.8"/>
<path d="M356.5,395 C357.5,394 359,394 360,394.5 L372,400.5 L378.5,406 L378.5,412.5 L372,414.5 L364.5,414 L352,409.5 L350.5,412 L349,411.3 L354.5,398 Z" fill="#fff" stroke="#4a4a4a" stroke-width="0.9" stroke-linejoin="round" stroke-linecap="round" />
<path d="M354.8,398.3 L366.5,404 L366,413.5 M366.5,404 C368,401 371,400 372.5,400.8" fill="none" stroke="#4a4a4a" stroke-width="0.9" stroke-linejoin="round" stroke-linecap="round" />
<path d="M352,409.5 L354,405" fill="none" stroke="#4a4a4a" stroke-width="0.8" stroke-linejoin="round" stroke-linecap="round" />
<path d="M366.8,404.5 C368,402 373,402 374.5,404.5 C376,407 376,411 374,413 L368.5,412.5 C366.5,410 366,407 366.8,404.5 Z" fill="#fff" stroke="#333" stroke-width="1.1" stroke-linejoin="round" stroke-linecap="round" />
<ellipse cx="370.5" cy="410.5" rx="1.6" ry="1.6" fill="none" stroke="#333" stroke-width="1"/>
<path d="M376.5,408.5 L379.5,409.2 L379.3,411 L376.5,410.5" fill="none" stroke="#4a4a4a" stroke-width="0.8" stroke-linejoin="round" stroke-linecap="round" />
<ellipse cx="345.3" cy="407.6" rx="2.3" ry="2.5" fill="#777" stroke="#222" stroke-width="1.4"/>
<path d="M355.8,412.6 L362.5,416.3 L361.5,418.2 L354.8,414.5 Z" fill="#444" stroke="#222" stroke-width="1" stroke-linejoin="round" stroke-linecap="round" />
<path d="M362.5,415.8 L364.2,416.8 L363.3,418.8 L361.5,417.8 Z" fill="#fff" stroke="#333" stroke-width="0.9" stroke-linejoin="round" stroke-linecap="round" />
<line x1="328.5" y1="409.3" x2="343" y2="407.8" stroke="#555" stroke-width="0.8"/>
<line x1="336.3" y1="423.3" x2="349.5" y2="414" stroke="#555" stroke-width="0.8"/>
<line x1="352" y1="424" x2="360.5" y2="417.5" stroke="#555" stroke-width="0.8"/>
<path d="M372.3,412.5 L372.3,429" fill="none" stroke="#4a4a4a" stroke-width="4.2" stroke-linecap="butt" stroke-linejoin="round"/>
<path d="M372.3,412.5 L372.3,429" fill="none" stroke="#fff" stroke-width="2.4000000000000004" stroke-linecap="butt" stroke-linejoin="round"/>
<path d="M367.3,428.8 L376,429.3 L375.8,437 L373.8,437.2 L373.6,440.8 L369.5,440.6 L369.5,436.8 L367.3,436.6 Z" fill="#fff" stroke="#333" stroke-width="1.1" stroke-linejoin="round" stroke-linecap="round" />
<path d="M369.5,431 L369.5,436.5 M373.8,431.3 L373.8,437" fill="none" stroke="#4a4a4a" stroke-width="0.7" stroke-linejoin="round" stroke-linecap="round" />
<path d="M370.5,440.8 L370.6,446 M372.8,440.8 L372.7,446" fill="none" stroke="#4a4a4a" stroke-width="0.8" stroke-linejoin="round" stroke-linecap="round" />
<path d="M367,446.2 L374.8,446.6 L374.6,453.5 L372.6,453.6 L372.5,456.5 L368.8,456.3 L368.8,453.3 L367,453.2 Z" fill="#fff" stroke="#333" stroke-width="1.1" stroke-linejoin="round" stroke-linecap="round" />
<path d="M369,448 L369,453 M372.6,448.3 L372.6,453.3" fill="none" stroke="#4a4a4a" stroke-width="0.7" stroke-linejoin="round" stroke-linecap="round" />
<path d="M389.3,415.5 C389,420 388.5,425 388.3,428" fill="none" stroke="#4a4a4a" stroke-width="0.8" stroke-linejoin="round" stroke-linecap="round" />
<path d="M388,428 L391,428.5 L390.6,432 L387.6,431.5 Z" fill="#666" stroke="#333" stroke-width="1" stroke-linejoin="round" stroke-linecap="round" />
<path d="M388.5,432 C387,438 385.5,443 385,448.5" fill="none" stroke="#4a4a4a" stroke-width="2.6" stroke-linecap="butt" stroke-linejoin="round"/>
<path d="M388.5,432 C387,438 385.5,443 385,448.5" fill="none" stroke="#fff" stroke-width="1.0" stroke-linecap="butt" stroke-linejoin="round"/>
<ellipse cx="332.3" cy="457" rx="5" ry="7" fill="none" stroke="#333" stroke-width="1.2" transform="rotate(-20 332.3 457)"/>
<ellipse cx="332.6" cy="457.2" rx="3.8" ry="5.8" fill="none" stroke="#4a4a4a" stroke-width="0.8" transform="rotate(-20 332.6 457.2)"/>
<line x1="327.5" y1="455" x2="340" y2="461" stroke="#4a4a4a" stroke-width="0.8"/>
<ellipse cx="346.3" cy="466.5" rx="8" ry="10.4" fill="#fff" stroke="#4a4a4a" stroke-width="0.9" transform="rotate(-25 346.3 466.5)"/>
<ellipse cx="348.2" cy="467.4" rx="7.2" ry="9.8" fill="none" stroke="#4a4a4a" stroke-width="0.8" transform="rotate(-25 348.2 467.4)"/>
<ellipse cx="351.8" cy="469.6" rx="5.6" ry="8.2" fill="#fff" stroke="#4a4a4a" stroke-width="0.9" transform="rotate(-20 351.8 469.6)"/>
<ellipse cx="352.6" cy="469.6" rx="1.2" ry="1.4" fill="none" stroke="#4a4a4a" stroke-width="0.8"/>
<path d="M357.5,468 C360,468.5 359.5,471 360,473 C360.5,475 363,474.6 365,473.6" fill="none" stroke="#4a4a4a" stroke-width="0.8" stroke-linejoin="round" stroke-linecap="round" />
<path d="M357.3,469.8 C358.6,470 358,472.5 358.8,474.5 C359.6,476.4 363,476 365.3,475" fill="none" stroke="#4a4a4a" stroke-width="0.8" stroke-linejoin="round" stroke-linecap="round" />
<path d="M365.5,471.5 L375.8,467.8 C377.6,467.6 378.4,471.6 376.6,472.4 L366.6,476.2 Z" fill="#fff" stroke="#4a4a4a" stroke-width="0.9" stroke-linejoin="round" stroke-linecap="round" />
<ellipse cx="366" cy="473.8" rx="1.2" ry="2.4" fill="#fff" stroke="#4a4a4a" stroke-width="0.9" transform="rotate(-20 366 473.8)"/>
<path d="M367.8,470.6 L369,475.3" fill="none" stroke="#333" stroke-width="1.1" stroke-linejoin="round" stroke-linecap="round" />
<path d="M379.3,463.6 L383.6,462.6 L384.3,466.4 L380,467.5 Z" fill="#fff" stroke="#222" stroke-width="1.3" stroke-linejoin="round" stroke-linecap="round" />
<path d="M369,456.5 C369.5,458.5 371,459.5 373,459.5 M372.4,456.5 C372.6,457.6 373.6,458.2 375,458.2" fill="none" stroke="#4a4a4a" stroke-width="0.8" stroke-linejoin="round" stroke-linecap="round" />
<path d="M341,497 L345,494.5 L350.5,496 L350.5,503.5 L346,506.5 L341,505 Z" fill="#fff" stroke="#333" stroke-width="1.1" stroke-linejoin="round" stroke-linecap="round" />
<path d="M341,497 L346,498.5 L350.5,496 M346,498.5 L346,506.5" fill="none" stroke="#333" stroke-width="0.9" stroke-linejoin="round" stroke-linecap="round" />
<path d="M333,501.5 L338,498.5 L344.5,500.5 L344.5,507 L340,509.5 L333,507.5 Z" fill="#fff" stroke="#222" stroke-width="1.3" stroke-linejoin="round" stroke-linecap="round" />
<path d="M333,501.5 L340,503.5 L344.5,500.5 M340,503.5 L340,509.5" fill="none" stroke="#222" stroke-width="1" stroke-linejoin="round" stroke-linecap="round" />
<path d="M334.5,503.5 L334.5,507 L338.5,508 L338.5,504.5 Z" fill="#555" stroke="#333" stroke-width="0.9" stroke-linejoin="round" stroke-linecap="round" />
<path d="M347,494.5 L347.5,492 L350,492.5 L350.5,495" fill="none" stroke="#333" stroke-width="0.9" stroke-linejoin="round" stroke-linecap="round" />
<path d="M356.5,493 L356.5,516" fill="none" stroke="#4a4a4a" stroke-width="4" stroke-linecap="butt" stroke-linejoin="round"/>
<path d="M356.5,493 L356.5,516" fill="none" stroke="#fff" stroke-width="2.4" stroke-linecap="butt" stroke-linejoin="round"/>
<path d="M346.5,512 L353,508.5 L357,511 C358.5,513.5 359.5,516 360,519" fill="none" stroke="#333" stroke-width="1.2" stroke-linejoin="round" stroke-linecap="round" />
<ellipse cx="357.8" cy="522.6" rx="2.2" ry="2.4" fill="#fff" stroke="#4a4a4a" stroke-width="0.9"/>
<path d="M345,518 L350,521.5 L349,522.5 L344.5,519.5 Z" fill="#444" stroke="#222" stroke-width="1" stroke-linejoin="round" stroke-linecap="round" />
<path d="M355,526 C350,530 345,534 340.5,537" fill="none" stroke="#4a4a4a" stroke-width="2.6" stroke-linecap="butt" stroke-linejoin="round"/>
<path d="M355,526 C350,530 345,534 340.5,537" fill="none" stroke="#fff" stroke-width="1.0" stroke-linecap="butt" stroke-linejoin="round"/>
<path d="M337,536 L341.5,537.5 L340.5,540.5 L336,539.5 Z" fill="#fff" stroke="#4a4a4a" stroke-width="0.8" stroke-linejoin="round" stroke-linecap="round" />
<ellipse cx="335.8" cy="538.6" rx="2" ry="1.5" fill="none" stroke="#333" stroke-width="1.1" transform="rotate(-20 335.8 538.6)"/>
<path d="M361,523.5 C364,530 365,540 363,548 C362,551 361,553 360,555" fill="none" stroke="#4a4a4a" stroke-width="3" stroke-linecap="butt" stroke-linejoin="round"/>
<path d="M361,523.5 C364,530 365,540 363,548 C362,551 361,553 360,555" fill="none" stroke="#fff" stroke-width="1.4" stroke-linecap="butt" stroke-linejoin="round"/>
<path d="M353.5,555 L363.5,556.5 L364,567 L353,566 Z" fill="#fff" stroke="#222" stroke-width="1.2" stroke-linejoin="round" stroke-linecap="round" />
<path d="M355.5,557 L355.5,561 L358.5,561.5 L358.5,557.5 Z M360,558 L360,562 L362.5,562.3 L362.5,558.3 Z" fill="none" stroke="#333" stroke-width="0.8" stroke-linejoin="round" stroke-linecap="round" />
<path d="M353.5,563.5 L364,564.5" fill="none" stroke="#222" stroke-width="1.6" stroke-linejoin="round" stroke-linecap="round" />
<path d="M379.5,502.5 C379,500.5 380.5,499.8 382,500.5 L388,503.5 C389.5,504.5 390,506 390,508 L389.5,513.5 C389.3,515.5 388,516.3 386.5,515.8 L380.5,512.5 C379,511.5 378.5,510 378.6,508 Z" fill="#fff" stroke="#333" stroke-width="1.1" stroke-linejoin="round" stroke-linecap="round" />
<path d="M378.3,503.5 C377.5,502 378.5,501 380,501.5 M378.3,503.5 L378,510 C378,512 379,513 380.5,513.8 L385,516" fill="none" stroke="#4a4a4a" stroke-width="0.8" stroke-linejoin="round" stroke-linecap="round" />
<path d="M380.5,505 L385.5,507.5 L385.2,512.5 L380.3,510 Z" fill="none" stroke="#4a4a4a" stroke-width="0.8" stroke-linejoin="round" stroke-linecap="round" />
<path d="M393.5,494.5 L406,490 L416,494.5 L416,501.5 L403.5,508.5 L393.5,503.5 Z" fill="#fff" stroke="#4a4a4a" stroke-width="0.9" stroke-linejoin="round" stroke-linecap="round" />
<path d="M393.5,494.5 L403.5,499.5 L416,494.5 M403.5,499.5 L403.5,508.5" fill="none" stroke="#4a4a4a" stroke-width="0.9" stroke-linejoin="round" stroke-linecap="round" />
<path d="M397,493.3 L401,495.5 L404.5,494 L400.5,492 Z M404,491.5 L408,493.5 L410.5,492.5 L406.5,490.6 Z" fill="#555" stroke="#222" stroke-width="1" stroke-linejoin="round" stroke-linecap="round" />
<ellipse cx="398.2" cy="500.6" rx="2.2" ry="2.6" fill="none" stroke="#4a4a4a" stroke-width="0.8"/>
<path d="M412.5,500 L414,498 L415.5,500.5 Z" fill="#444" stroke="#222" stroke-width="0.9" stroke-linejoin="round" stroke-linecap="round" />
<path d="M416.5,496 L421.5,492.5" fill="none" stroke="#666" stroke-width="0.7" stroke-linejoin="round" stroke-linecap="round" stroke-dasharray="2 1.2" />
<path d="M422,488 L426,484.5 L436.5,486 L437.3,493 L433.5,496.5 L422.8,495 Z" fill="#fff" stroke="#333" stroke-width="1" stroke-linejoin="round" stroke-linecap="round" />
<path d="M422.3,490.3 L433,491.8 L437,488.3 M422.5,492.6 L433.2,494 L437.2,490.6 M424.5,486 L435,487.5" fill="none" stroke="#222" stroke-width="1.2" stroke-linejoin="round" stroke-linecap="round" />
<path d="M426,485 L426.5,495.5 M429.5,485.3 L430,496 M433,486 L433.4,496.3" fill="none" stroke="#4a4a4a" stroke-width="0.7" stroke-linejoin="round" stroke-linecap="round" />
<path d="M437,487 L440,486.5 L440.3,489.5 L437.3,490" fill="none" stroke="#333" stroke-width="0.9" stroke-linejoin="round" stroke-linecap="round" />
<path d="M410.5,463 C411,470 416,474 424,476.5 C431,478.5 437,479.5 439.5,482 C441,484 440.5,486 439.5,487.5" fill="none" stroke="#4a4a4a" stroke-width="3.4" stroke-linecap="butt" stroke-linejoin="round"/>
<path d="M410.5,463 C411,470 416,474 424,476.5 C431,478.5 437,479.5 439.5,482 C441,484 440.5,486 439.5,487.5" fill="none" stroke="#fff" stroke-width="1.7999999999999998" stroke-linecap="butt" stroke-linejoin="round"/>
<path d="M444.5,463.5 L448,462 L452.5,468 L449,471.5 Z" fill="#888" stroke="#222" stroke-width="1.2" stroke-linejoin="round" stroke-linecap="round" />
<path d="M446.5,462.8 L450.8,469.5" fill="none" stroke="#eee" stroke-width="0.7" stroke-linejoin="round" stroke-linecap="round" />
<path d="M445.5,470 C444,473 444.5,478 447.5,480.5 C450.5,482.5 455,481 456.5,478 C457.5,475.5 457,472.5 455,470.5 L450,468.5 Z" fill="#fff" stroke="#4a4a4a" stroke-width="0.9" stroke-linejoin="round" stroke-linecap="round" />
<path d="M455.5,470.5 L461,468 M457,474.5 L462.5,472" fill="none" stroke="#4a4a4a" stroke-width="0.8" stroke-linejoin="round" stroke-linecap="round" />
<path d="M439.4,541.3 L452,533.5 L482,550.6 L467.5,558.5 Z" fill="#fff" stroke="#4a4a4a" stroke-width="0.9" stroke-linejoin="round" stroke-linecap="round" />
<path d="M439.4,541.3 L439.4,542.6 L467.5,559.8 L482,551.8 L482,550.6" fill="none" stroke="#4a4a4a" stroke-width="0.8" stroke-linejoin="round" stroke-linecap="round" />
<path d="M452,533.5 L456.3,508 L470,516.3 L465,540.5 Z" fill="#fff" stroke="#4a4a4a" stroke-width="0.9" stroke-linejoin="round" stroke-linecap="round" />
<path d="M456.3,508 L457.8,507 L471.4,515.3 L470,516.3" fill="none" stroke="#4a4a4a" stroke-width="0.8" stroke-linejoin="round" stroke-linecap="round" />
<path d="M457.5,512.5 L467.3,518.5 L465.3,528.5 L455.6,522.8 Z" fill="none" stroke="#333" stroke-width="1.1" stroke-linejoin="round" stroke-linecap="round" />
<path d="M459,515 L466,519.3" fill="none" stroke="#4a4a4a" stroke-width="0.7" stroke-linejoin="round" stroke-linecap="round" />
<ellipse cx="457.5" cy="548.8" rx="1.8" ry="1.1" fill="none" stroke="#4a4a4a" stroke-width="0.8"/>
<ellipse cx="475.6" cy="550.6" rx="1.6" ry="1" fill="none" stroke="#4a4a4a" stroke-width="0.8"/>
<ellipse cx="463" cy="528.5" rx="0.9" ry="0.9" fill="none" stroke="#4a4a4a" stroke-width="0.8"/>
<ellipse cx="468" cy="538.2" rx="2.6" ry="2.2" fill="#555" stroke="#111" stroke-width="1.6"/>
<ellipse cx="475.8" cy="533.8" rx="2.6" ry="2.2" fill="#555" stroke="#111" stroke-width="1.6"/>
<line x1="468" y1="540.5" x2="468" y2="566" stroke="#444" stroke-width="0.8"/>
<line x1="476" y1="536" x2="476" y2="561" stroke="#444" stroke-width="0.8"/>
<path d="M466.3,566 L469.8,566 L469.8,570 L466.3,570 Z" fill="#555" stroke="#222" stroke-width="1" stroke-linejoin="round" stroke-linecap="round" />
<ellipse cx="468" cy="571.5" rx="2.6" ry="1.7" fill="#fff" stroke="#222" stroke-width="1.1"/>
<path d="M474.3,561 L477.8,561 L477.8,565 L474.3,565 Z" fill="#555" stroke="#222" stroke-width="1" stroke-linejoin="round" stroke-linecap="round" />
<ellipse cx="476" cy="566.5" rx="2.6" ry="1.7" fill="#fff" stroke="#222" stroke-width="1.1"/>
<path d="M446.3,504.3 L453.5,509" fill="none" stroke="#111" stroke-width="2" stroke-linejoin="round" stroke-linecap="round" />
<path d="M443.3,514.3 L450.5,519" fill="none" stroke="#111" stroke-width="2" stroke-linejoin="round" stroke-linecap="round" />
<path d="M453.5,509 L455.8,510.5 M450.5,519 L452,520" fill="none" stroke="#333" stroke-width="1" stroke-linejoin="round" stroke-linecap="round" />
<path d="M474.5,511 L480,506 L492,509.5 L492.3,517.5 L486.5,522.5 L474.8,519 Z" fill="#fff" stroke="#4a4a4a" stroke-width="0.9" stroke-linejoin="round" stroke-linecap="round" />
<path d="M474.5,511 L486,514.5 L492,509.5 M486,514.5 L486.5,522.5" fill="none" stroke="#4a4a4a" stroke-width="0.9" stroke-linejoin="round" stroke-linecap="round" />
<path d="M481.5,513.5 L482,520.8" fill="none" stroke="#222" stroke-width="1.3" stroke-linejoin="round" stroke-linecap="round" />
<path d="M487.5,515 L491.3,511.8 L491.5,517 L487.8,520.3 Z" fill="none" stroke="#333" stroke-width="1" stroke-linejoin="round" stroke-linecap="round" />
<path d="M474.5,513 L471,514.5 L471.2,517 L474.7,516" fill="none" stroke="#4a4a4a" stroke-width="0.8" stroke-linejoin="round" stroke-linecap="round" />
<path d="M457.5,497.5 L462,496.5 L470,503 L469.5,507 L465.5,507.5 L457.5,501 Z" fill="#fff" stroke="#222" stroke-width="1.2" stroke-linejoin="round" stroke-linecap="round" />
<path d="M460,497.5 L468,504 M462,500.5 L462.5,503.5 M465.5,503 L466,506" fill="none" stroke="#222" stroke-width="1" stroke-linejoin="round" stroke-linecap="round" />
<path d="M470,504.5 L474.5,508" fill="none" stroke="#4a4a4a" stroke-width="0.8" stroke-linejoin="round" stroke-linecap="round" />
<line x1="469" y1="516" x2="517.5" y2="551" stroke="#555" stroke-width="0.7"/>
<line x1="495.8" y1="497" x2="495" y2="530" stroke="#555" stroke-width="0.7"/>
<path d="M490,533.5 L493.5,528.5 L496.5,529 L498.5,535 L498.8,543.5 L495,546 L489.5,543 Z" fill="#fff" stroke="#333" stroke-width="1" stroke-linejoin="round" stroke-linecap="round" />
<path d="M490,533.5 L494.5,536 L495,546 M494.5,536 L498.5,535 M493.5,528.5 L494.5,536" fill="none" stroke="#333" stroke-width="0.9" stroke-linejoin="round" stroke-linecap="round" />
<path d="M510.5,555 L514.5,542.5 L517,543 L513.5,556 Z" fill="#fff" stroke="#4a4a4a" stroke-width="0.9" stroke-linejoin="round" stroke-linecap="round" />
<path d="M510.5,555 L512.5,556.5 L513.5,556" fill="none" stroke="#4a4a4a" stroke-width="0.8" stroke-linejoin="round" stroke-linecap="round" />
<path d="M518,545.5 L521.5,548.5" fill="none" stroke="#111" stroke-width="2" stroke-linejoin="round" stroke-linecap="round" />
<path d="M514.5,554.5 L518,557.5" fill="none" stroke="#111" stroke-width="2" stroke-linejoin="round" stroke-linecap="round" />
<path d="M554,471 L602.8,441 L660,472.8 L610.3,502 Z" fill="#fff" stroke="#555" stroke-width="0.9" stroke-linejoin="round" stroke-linecap="round" />
<path d="M610.3,502 L660,472.8 L660,503.8 L610.3,532.5 Z" fill="#fff" stroke="#555" stroke-width="0.9" stroke-linejoin="round" stroke-linecap="round" />
<path d="M549.4,481 L549.4,502 L609.2,532.5 L609.2,502" fill="none" stroke="#555" stroke-width="0.9" stroke-linejoin="round" stroke-linecap="round" />
<path d="M608,500.8 L608,532" fill="none" stroke="#555" stroke-width="0.8" stroke-linejoin="round" stroke-linecap="round" />
<path d="M556,474.8 L607,500.5" fill="none" stroke="#555" stroke-width="0.8" stroke-linejoin="round" stroke-linecap="round" />
<path d="M564,482.2 L594,498" fill="none" stroke="#555" stroke-width="0.8" stroke-linejoin="round" stroke-linecap="round" />
<path d="M551,472.5 L555,470.3 L564,475 L564,489 L558,486 L558,482 L551,478.5 Z" fill="#fff" stroke="#555" stroke-width="0.9" stroke-linejoin="round" stroke-linecap="round" />
<path d="M551.5,473.5 L555.5,475.5 L555.5,479.5 L551.5,477.5 Z" fill="none" stroke="#333" stroke-width="1" stroke-linejoin="round" stroke-linecap="round" />
<path d="M549.4,481 L551,478.5" fill="none" stroke="#555" stroke-width="0.8" stroke-linejoin="round" stroke-linecap="round" />
<path d="M559.3,478.4 L562.7,478.4 M561,476.6 L561,480.2" fill="none" stroke="#222" stroke-width="1.1" stroke-linejoin="round" stroke-linecap="round" />
<path d="M592.5,497 L592.5,506 L598,509 L598,511.5 L604.5,508.5" fill="none" stroke="#555" stroke-width="0.9" stroke-linejoin="round" stroke-linecap="round" />
<path d="M604.8,503.8 L609.6,505.6 L609.6,510 L604.8,508 Z" fill="none" stroke="#333" stroke-width="1" stroke-linejoin="round" stroke-linecap="round" />
<path d="M598,502 L601.8,502.6" fill="none" stroke="#222" stroke-width="1.1" stroke-linejoin="round" stroke-linecap="round" />
<path d="M498,523.8 L502.5,520.6 L551,507 L552,515 L521,533.8 L517,535.8 Z" fill="#fff" stroke="#4a4a4a" stroke-width="0.9" stroke-linejoin="round" stroke-linecap="round" />
<path d="M517,535.8 C520,530 527,522 535,517 C541,513 547,510 551.5,508.8" fill="none" stroke="#333" stroke-width="1.2" stroke-linejoin="round" stroke-linecap="round" />
<path d="M502.5,520.6 L519.5,530 M505.5,519.8 L508.5,524.8 L504.3,527.3 M511,522.8 L514,527.5 L510,530.5" fill="none" stroke="#4a4a4a" stroke-width="0.8" stroke-linejoin="round" stroke-linecap="round" />
<path d="M545.8,511.5 L547.2,511.2 M546.5,516 L548,515.6" fill="none" stroke="#333" stroke-width="1" stroke-linejoin="round" stroke-linecap="round" />
<path d="M551.5,517 L558,522" fill="none" stroke="#111" stroke-width="2.2" stroke-linejoin="round" stroke-linecap="round" />
<path d="M555.5,515 L562,520" fill="none" stroke="#111" stroke-width="2.2" stroke-linejoin="round" stroke-linecap="round" />
<ellipse cx="558.8" cy="523" rx="1.8" ry="2.2" fill="#fff" stroke="#222" stroke-width="1"/>
<ellipse cx="562.6" cy="520.6" rx="1.8" ry="2.2" fill="#fff" stroke="#222" stroke-width="1"/>
<line x1="558" y1="540" x2="557.2" y2="526" stroke="#555" stroke-width="0.8"/>
<path d="M549,427.8 L571,420.8 C574,420 576.5,422.5 573.5,425.5 L552,433.2 C548,434.5 546,429.5 549,427.8 Z" fill="#fff" stroke="#4a4a4a" stroke-width="0.9" stroke-linejoin="round" stroke-linecap="round" />
<path d="M551.5,429.3 L571.5,422.8 C573,422.6 573.3,423.8 572,424.6 L552.5,431.2 C551,431.6 550.3,430 551.5,429.3 Z" fill="#999" stroke="#333" stroke-width="0.8" stroke-linejoin="round" stroke-linecap="round" />
<path d="M557.8,444 L565,441 L568,443.5 L568,449.5 L556,463.5 L548,464.5 L545.6,461.5 L551,457.5 L554.5,458 L562,448.5 L557.8,446.5 Z" fill="#fff" stroke="#4a4a4a" stroke-width="0.9" stroke-linejoin="round" stroke-linecap="round" />
<path d="M551,457.5 L548,464.5 M562,448.5 L568,446" fill="none" stroke="#4a4a4a" stroke-width="0.8" stroke-linejoin="round" stroke-linecap="round" />
<ellipse cx="549.8" cy="460.8" rx="1.1" ry="0.8" fill="none" stroke="#4a4a4a" stroke-width="0.7"/>
<path d="M576.5,416.5 L585,412.8 L632.5,440.2 L623.5,444.8 Z" fill="#fff" stroke="#4a4a4a" stroke-width="0.9" stroke-linejoin="round" stroke-linecap="round" />
<path d="M579,415.4 L626.5,443.3" fill="none" stroke="#4a4a4a" stroke-width="0.7" stroke-linejoin="round" stroke-linecap="round" />
<path d="M581.5,420 L590.5,415.8 M583,420.6 L591.5,416.4 M618.5,441.5 L627.5,437 M620,442.5 L629,438" fill="none" stroke="#4a4a4a" stroke-width="0.8" stroke-linejoin="round" stroke-linecap="round" />
<line x1="678.8" y1="454" x2="632.8" y2="442" stroke="#555" stroke-width="0.8"/>
<path d="M662,506 C662,504 668.5,502.5 669.4,504 L675.2,527 L684.4,532 L677,536 L668,531 Z" fill="#fff" stroke="#4a4a4a" stroke-width="0.9" stroke-linejoin="round" stroke-linecap="round" />
<path d="M662,506 C664,507.5 668.5,506 669.4,504 M669.4,530 L675.2,527" fill="none" stroke="#4a4a4a" stroke-width="0.8" stroke-linejoin="round" stroke-linecap="round" />
<ellipse cx="677.8" cy="532" rx="1.7" ry="1.1" fill="none" stroke="#4a4a4a" stroke-width="0.8"/>
<line x1="670" y1="492.5" x2="667.5" y2="503.5" stroke="#555" stroke-width="0.8"/>
<line x1="665" y1="469.6" x2="656" y2="471.2" stroke="#555" stroke-width="0.8"/>
<path d="M615,302.5 L622.5,303.8 L625,305.6 L625,320 L634.4,356.3 L628,353 L619.4,321.3 L618,307 Z" fill="#fff" stroke="#4a4a4a" stroke-width="0.9" stroke-linejoin="round" stroke-linecap="round" />
<path d="M622.5,303.8 L622.8,318 M618,307 L615,302.5" fill="none" stroke="#4a4a4a" stroke-width="0.8" stroke-linejoin="round" stroke-linecap="round" />
<ellipse cx="621.3" cy="311.3" rx="1" ry="1.2" fill="none" stroke="#4a4a4a" stroke-width="0.8"/>
<path d="M581,313 C579,310 581,308.5 584,309.5 L587,311.5 M581,313 C582,316 584,317.5 586,317" fill="none" stroke="#4a4a4a" stroke-width="0.9" stroke-linejoin="round" stroke-linecap="round" />
<path d="M583,318 C583,326 590,332.5 601,332.5 C609,332.5 614.5,328 614.5,321" fill="#fff" stroke="#4a4a4a" stroke-width="0.9" stroke-linejoin="round" stroke-linecap="round" />
<path d="M584.5,321.5 C586,328 592,331 601,331 C608,331 612.5,327.5 613.5,323" fill="none" stroke="#333" stroke-width="1.1" stroke-linejoin="round" stroke-linecap="round" />
<ellipse cx="598.4" cy="314.7" rx="14" ry="9" fill="#fff" stroke="#4a4a4a" stroke-width="0.9" transform="rotate(8 598.4 314.7)"/>
<ellipse cx="598.4" cy="316.4" rx="13.2" ry="8.4" fill="none" stroke="#4a4a4a" stroke-width="0.8" transform="rotate(8 598.4 316.4)"/>
<path d="M586,322 C589,326.5 596,329 603,328.5 C607,328 610,326.5 612,324" fill="none" stroke="#4a4a4a" stroke-width="0.8" stroke-linejoin="round" stroke-linecap="round" />
<path d="M597,327.5 L597,330.5 L602,330.5 L602,328" fill="none" stroke="#333" stroke-width="1" stroke-linejoin="round" stroke-linecap="round" />
<path d="M610,325 L615.5,327 L616.3,330.5 L612.5,332.5 L608.5,331.5" fill="#fff" stroke="#4a4a4a" stroke-width="0.9" stroke-linejoin="round" stroke-linecap="round" />
<ellipse cx="612.6" cy="328.4" rx="1.4" ry="1.5" fill="#444" stroke="#111" stroke-width="1.2"/>
<path d="M603,331.5 L608,333 M600,332.8 L606,334" fill="none" stroke="#444" stroke-width="0.8" stroke-linejoin="round" stroke-linecap="round" />
<path d="M568,337.5 L572,333.2 L578.2,330.8 L587,335.5 L587,339 L580.3,343.8 L576,343.8 Z" fill="#fff" stroke="#4a4a4a" stroke-width="0.9" stroke-linejoin="round" stroke-linecap="round" />
<path d="M572,333.2 L580.5,338.8 L587,335.5 M580.5,338.8 L580.3,343.8 M568,337.5 L576,343.8" fill="none" stroke="#4a4a4a" stroke-width="0.8" stroke-linejoin="round" stroke-linecap="round" />
<path d="M585,334.5 L590,332" fill="none" stroke="#4a4a4a" stroke-width="0.8" stroke-linejoin="round" stroke-linecap="round" />
<path d="M569,338.5 L567.5,341 L574.5,346.3 L576,343.8" fill="none" stroke="#333" stroke-width="1" stroke-linejoin="round" stroke-linecap="round" />
<path d="M607,351.5 L614.5,346.5 L622,349 L623.8,351 L623.8,359.5 L615.5,363.5 L607,360.5 Z" fill="#fff" stroke="#4a4a4a" stroke-width="0.9" stroke-linejoin="round" stroke-linecap="round" />
<path d="M607,351.5 L615.3,354.5 L622,349 M615.3,354.5 L615.5,363.5" fill="none" stroke="#4a4a4a" stroke-width="0.9" stroke-linejoin="round" stroke-linecap="round" />
<path d="M614.5,346.5 L615.5,344.5 L622.5,346 L623.8,351 M616,344.5 L622,345.8" fill="none" stroke="#222" stroke-width="1.3" stroke-linejoin="round" stroke-linecap="round" />
<path d="M617.5,356 L622.5,352.5 L622.8,358.5 L618,361.5 Z" fill="none" stroke="#333" stroke-width="1" stroke-linejoin="round" stroke-linecap="round" />
<path d="M609.5,350.8 L615.8,353 L619.5,350" fill="none" stroke="#4a4a4a" stroke-width="0.7" stroke-linejoin="round" stroke-linecap="round" />
<line x1="597.5" y1="361.3" x2="607" y2="360" stroke="#555" stroke-width="0.8"/>
<path d="M621,363 L624.5,362.5 L626,366 L622.5,367 Z M622.5,368 L626,367.5 L627.8,371 L624,372 Z" fill="#fff" stroke="#333" stroke-width="1" stroke-linejoin="round" stroke-linecap="round" />
<path d="M626,365 C628,366 628.6,368 628.2,370.5" fill="none" stroke="#4a4a4a" stroke-width="0.8" stroke-linejoin="round" stroke-linecap="round" />
<path d="M655.6,400 C657,397.5 659,396.8 661,397.2 L671.3,400.6 L671.9,418.8 C666,419.5 660,416 657,411.5 C655,408.5 654.8,403 655.6,400 Z" fill="#fff" stroke="#4a4a4a" stroke-width="0.9" stroke-linejoin="round" stroke-linecap="round" />
<path d="M657.5,401 C659,399 660.5,398.6 662,399 L669.5,401.5" fill="none" stroke="#4a4a4a" stroke-width="0.7" stroke-linejoin="round" stroke-linecap="round" />
<path d="M660,401 L668.5,402.8" fill="none" stroke="#222" stroke-width="1.4" stroke-linejoin="round" stroke-linecap="round" />
<path d="M659.5,406.5 L666,403.5" fill="none" stroke="#4a4a4a" stroke-width="0.8" stroke-linejoin="round" stroke-linecap="round" />
<ellipse cx="661" cy="410.5" rx="0.8" ry="0.8" fill="none" stroke="#333" stroke-width="0.9"/>
<line x1="661" y1="387" x2="665.5" y2="398.4" stroke="#555" stroke-width="0.8"/>
<path d="M674,394 C674,391.5 679.5,391.5 680,394 L679,396 L675,396 Z" fill="#555" stroke="#111" stroke-width="1.2" stroke-linejoin="round" stroke-linecap="round" />
<path d="M676,396 L675.5,399.5 L678,399.5 L678,396" fill="none" stroke="#222" stroke-width="1" stroke-linejoin="round" stroke-linecap="round" />
<path d="M646,403.2 L652,406" fill="none" stroke="#111" stroke-width="2" stroke-linejoin="round" stroke-linecap="round" />
<ellipse cx="646.4" cy="414" rx="2.1" ry="2.2" fill="#666" stroke="#111" stroke-width="1.4"/>
<line x1="648" y1="388.8" x2="650.6" y2="402.8" stroke="#555" stroke-width="0.7"/>
<line x1="642" y1="402" x2="646" y2="403.6" stroke="#555" stroke-width="0.7"/>
<line x1="628" y1="409" x2="644" y2="413" stroke="#555" stroke-width="0.7"/>
<line x1="652.5" y1="406.5" x2="659" y2="409" stroke="#555" stroke-width="0.7"/>
<path d="M681.5,409.5 L686,408.5 L677,424 L673.4,425.5 L672.5,422.5 Z" fill="#fff" stroke="#4a4a4a" stroke-width="0.9" stroke-linejoin="round" stroke-linecap="round" />
<path d="M679,413 L685.5,416 L683,420.5 L676.5,417.5 Z" fill="#fff" stroke="#333" stroke-width="1" stroke-linejoin="round" stroke-linecap="round" />
<path d="M683.5,406 L684.5,409.5" fill="none" stroke="#333" stroke-width="1.4" stroke-linejoin="round" stroke-linecap="round" />
<ellipse cx="674.3" cy="424.6" rx="1.5" ry="1.5" fill="none" stroke="#222" stroke-width="1"/>
<path d="M681,423.5 L687,427.8" fill="none" stroke="#111" stroke-width="1.8" stroke-linejoin="round" stroke-linecap="round" />
<line x1="671.6" y1="410" x2="690" y2="420" stroke="#555" stroke-width="0.7"/>
<path d="M703.5,399.5 L708.5,402 L693,421 L688.5,419 Z" fill="#fff" stroke="#4a4a4a" stroke-width="0.9" stroke-linejoin="round" stroke-linecap="round" />
<path d="M708.5,402 L709,404 L694,422.5 L693,421" fill="none" stroke="#4a4a4a" stroke-width="0.8" stroke-linejoin="round" stroke-linecap="round" />
<path d="M691,419.5 L697,421.5 L701.5,423.5 L699,426.5 L694.5,424.5" fill="#666" stroke="#222" stroke-width="1.2" stroke-linejoin="round" stroke-linecap="round" />
<path d="M700,422.5 L704,424 L702,427 L699,426" fill="#fff" stroke="#333" stroke-width="1" stroke-linejoin="round" stroke-linecap="round" />
<path d="M702,391 C706,386.5 714,384 721,384.5 C726,385 729,388.5 729,392.5 L725.5,395.5 C725,392 722,390.5 718,391 C713,391.5 709,393.5 706.5,397 Z" fill="#fff" stroke="#4a4a4a" stroke-width="0.9" stroke-linejoin="round" stroke-linecap="round" />
<path d="M729,392.5 L727,389.5" fill="none" stroke="#4a4a4a" stroke-width="0.8" stroke-linejoin="round" stroke-linecap="round" />
<ellipse cx="699.8" cy="395.2" rx="2" ry="2" fill="#fff" stroke="#4a4a4a" stroke-width="0.9"/>
<path d="M701.5,394 L705.5,390.5 M701,397 L706,396.5" fill="none" stroke="#4a4a4a" stroke-width="0.8" stroke-linejoin="round" stroke-linecap="round" />
<path d="M704.5,399 L705.5,402" fill="none" stroke="#4a4a4a" stroke-width="0.8" stroke-linejoin="round" stroke-linecap="round" />
<ellipse cx="697.8" cy="380.3" rx="1.9" ry="1.9" fill="#555" stroke="#111" stroke-width="1.2"/>
<path d="M698.5,382.5 L700,386" fill="none" stroke="#333" stroke-width="1" stroke-linejoin="round" stroke-linecap="round" />
<line x1="697" y1="364.3" x2="707.5" y2="386" stroke="#555" stroke-width="0.8"/>
<line x1="689" y1="372" x2="696.5" y2="379" stroke="#555" stroke-width="0.7"/>
<line x1="738.6" y1="415" x2="711" y2="406.3" stroke="#555" stroke-width="0.8"/>
<line x1="726.8" y1="424.6" x2="702.3" y2="421" stroke="#555" stroke-width="0.7"/>
<line x1="712.8" y1="440.4" x2="687.4" y2="426.4" stroke="#555" stroke-width="0.7"/>
<line x1="697" y1="440.4" x2="677.8" y2="426.4" stroke="#555" stroke-width="0.8"/>
<path d="M662,432.5 L667.5,429 L672.5,431 L672.5,435 L667,437.5 L662,436.5 Z" fill="#fff" stroke="#4a4a4a" stroke-width="0.9" stroke-linejoin="round" stroke-linecap="round" />
<path d="M662,432.5 L667.2,433.8 L672.5,431 M667.2,433.8 L667,437.5" fill="none" stroke="#4a4a4a" stroke-width="0.8" stroke-linejoin="round" stroke-linecap="round" />
<path d="M714,563.3 L702.8,569.3 L717.8,577.5 L733.5,571.5 Z" fill="#fff" stroke="#7a7a7a" stroke-width="0.9" stroke-linejoin="round" stroke-linecap="round" />
<path d="M702.8,569.3 L702.8,601.5 L718.5,609 L717.8,577.5" fill="#fff" stroke="#7a7a7a" stroke-width="0.9" stroke-linejoin="round" stroke-linecap="round" />
<path d="M717.8,577.5 L733.5,571.5 L733.5,603.8 L718.5,609" fill="#fff" stroke="#7a7a7a" stroke-width="0.9" stroke-linejoin="round" stroke-linecap="round" />
<path d="M716.5,583.5 L721.5,584.5 L725.5,582" fill="none" stroke="#999" stroke-width="0.8" stroke-linejoin="round" stroke-linecap="round" />
<path d="M716.5,587.5 L721.5,588.5 L725.5,586" fill="none" stroke="#999" stroke-width="0.8" stroke-linejoin="round" stroke-linecap="round" />
<path d="M716.5,591.5 L721.5,592.5 L725.5,590" fill="none" stroke="#999" stroke-width="0.8" stroke-linejoin="round" stroke-linecap="round" />
<path d="M716.5,595.5 L721.5,596.5 L725.5,594" fill="none" stroke="#999" stroke-width="0.8" stroke-linejoin="round" stroke-linecap="round" />
<path d="M716.5,599.5 L721.5,600.5 L725.5,598" fill="none" stroke="#999" stroke-width="0.8" stroke-linejoin="round" stroke-linecap="round" />
<path d="M716.5,603.5 L721.5,604.5 L725.5,602" fill="none" stroke="#999" stroke-width="0.8" stroke-linejoin="round" stroke-linecap="round" />
<path d="M733.5,577 L736.5,577.5 L736.5,580 L738,580.3 L738,582.5 L733.5,582" fill="none" stroke="#7a7a7a" stroke-width="0.8" stroke-linejoin="round" stroke-linecap="round" />
<path d="M718.5,609 L718.8,614" fill="none" stroke="#7a7a7a" stroke-width="0.8" stroke-linejoin="round" stroke-linecap="round" />
<path d="M701.5,617 C701.5,613.5 715,613.5 721,617.5 C726,621 735,622 741,620 M703,619 C707,622.5 716,621 720,618 C724,615 733,614 741.5,616 M702,618 C703,614.5 714,615 719.5,618.5 C725,622 734,622.5 740,621 M704,620 C709,623 717,621.5 721.5,618.5" fill="none" stroke="#858585" stroke-width="0.9" stroke-linejoin="round" stroke-linecap="round" />
<path d="M728,614.5 L741,615.5 L742.5,619 L733,622.5 M730,617.5 L740,618" fill="none" stroke="#999" stroke-width="0.8" stroke-linejoin="round" stroke-linecap="round" />
<line x1="682" y1="584.8" x2="700.5" y2="585" stroke="#666" stroke-width="0.8"/>
<path d="M291.5,410 L296,406.5 L307,408.5 L307.5,416.5 L303,420.5 L292,418 Z" fill="#fff" stroke="#555" stroke-width="0.9" stroke-linejoin="round" stroke-linecap="round" />
<path d="M291.5,410 L302.5,412.5 L307,408.5 M302.5,412.5 L303,420.5" fill="none" stroke="#555" stroke-width="0.9" stroke-linejoin="round" stroke-linecap="round" />
<path d="M294,412.5 L294.3,417 L297.5,417.8 L297.3,413.3 Z M298.8,413.6 L299,418.2" fill="none" stroke="#333" stroke-width="1" stroke-linejoin="round" stroke-linecap="round" />
<path d="M296.5,406.8 L297,404.8 L304,406 L304.3,408" fill="none" stroke="#555" stroke-width="0.8" stroke-linejoin="round" stroke-linecap="round" />
<rect x="383.5" y="567.5" width="10.0" height="10.5" fill="none" stroke="#bcbcbc" stroke-width="0.8"/><path d="M1,2 L3.2,0 L3.2,8" transform="translate(386.20,569.10) scale(0.920,0.912)" fill="none" stroke="#787878" stroke-width="0.87" stroke-linecap="round" stroke-linejoin="round"/>
<rect x="440.4" y="410.0" width="9.6" height="9.8" fill="none" stroke="#bcbcbc" stroke-width="0.8"/><path d="M0,1.8 Q0,0 2.5,0 Q5,0 5,2 Q5,3.6 0,8 L5,8" transform="translate(442.90,411.60) scale(0.920,0.825)" fill="none" stroke="#787878" stroke-width="0.92" stroke-linecap="round" stroke-linejoin="round"/>
<rect x="382.0" y="542.8" width="10.5" height="10.7" fill="none" stroke="#bcbcbc" stroke-width="0.8"/><path d="M0,0 L5,0 L2.3,3.1 Q5,3.1 5,5.6 Q5,8 2.5,8 Q0,8 0,6.4" transform="translate(384.95,544.40) scale(0.920,0.938)" fill="none" stroke="#787878" stroke-width="0.86" stroke-linecap="round" stroke-linejoin="round"/>
<rect x="382.5" y="529.0" width="10.0" height="10.5" fill="none" stroke="#bcbcbc" stroke-width="0.8"/><path d="M3.4,0 L0,5.6 L5,5.6 M3.9,3.4 L3.9,8" transform="translate(385.20,530.60) scale(0.920,0.912)" fill="none" stroke="#787878" stroke-width="0.87" stroke-linecap="round" stroke-linejoin="round"/>
<rect x="391.5" y="517.0" width="11.0" height="10.5" fill="none" stroke="#bcbcbc" stroke-width="0.8"/><path d="M4.8,0 L0.5,0 L0.3,3.5 Q1.3,3 2.5,3 Q5,3 5,5.5 Q5,8 2.5,8 Q0,8 0,6.4" transform="translate(394.70,518.60) scale(0.920,0.912)" fill="none" stroke="#787878" stroke-width="0.87" stroke-linecap="round" stroke-linejoin="round"/>
<rect x="406.5" y="512.0" width="10.0" height="10.0" fill="none" stroke="#bcbcbc" stroke-width="0.8"/><path d="M4.4,0 Q0,0.3 0,5.2 Q0,8 2.5,8 Q5,8 5,5.6 Q5,3.3 2.5,3.3 Q0,3.3 0,5.6" transform="translate(409.20,513.60) scale(0.920,0.850)" fill="none" stroke="#787878" stroke-width="0.90" stroke-linecap="round" stroke-linejoin="round"/>
<rect x="355.0" y="442.5" width="8.0" height="10.0" fill="none" stroke="#bcbcbc" stroke-width="0.8"/><path d="M0,0 L5,0 L2,8" transform="translate(356.70,444.10) scale(0.920,0.850)" fill="none" stroke="#787878" stroke-width="0.90" stroke-linecap="round" stroke-linejoin="round"/>
<rect x="343.6" y="435.5" width="9.4" height="10.0" fill="none" stroke="#bcbcbc" stroke-width="0.8"/><path d="M2.5,0 Q0.4,0 0.4,1.8 Q0.4,3.6 2.5,3.6 Q4.6,3.6 4.6,1.8 Q4.6,0 2.5,0 M2.5,3.6 Q0,3.6 0,5.8 Q0,8 2.5,8 Q5,8 5,5.8 Q5,3.6 2.5,3.6" transform="translate(346.00,437.10) scale(0.920,0.850)" fill="none" stroke="#787878" stroke-width="0.90" stroke-linecap="round" stroke-linejoin="round"/>
<rect x="327.5" y="422.4" width="9.0" height="9.1" fill="none" stroke="#bcbcbc" stroke-width="0.8"/><path d="M1,2 L3.2,0 L3.2,8" transform="translate(328.70,424.00) scale(0.550,0.738)" fill="none" stroke="#787878" stroke-width="1.24" stroke-linecap="round" stroke-linejoin="round"/><path d="M1.6,0 Q0,0 0,1.8 L0,6.2 Q0,8 1.6,8 L3.4,8 Q5,8 5,6.2 L5,1.8 Q5,0 3.4,0 Z" transform="translate(332.55,424.00) scale(0.550,0.738)" fill="none" stroke="#787878" stroke-width="1.24" stroke-linecap="round" stroke-linejoin="round"/>
<rect x="358.6" y="361.3" width="10.1" height="8.7" fill="none" stroke="#bcbcbc" stroke-width="0.8"/><path d="M1,2 L3.2,0 L3.2,8" transform="translate(359.80,362.90) scale(0.660,0.687)" fill="none" stroke="#787878" stroke-width="1.19" stroke-linecap="round" stroke-linejoin="round"/><path d="M0,0 L5,0 L2.3,3.1 Q5,3.1 5,5.6 Q5,8 2.5,8 Q0,8 0,6.4" transform="translate(364.20,362.90) scale(0.660,0.687)" fill="none" stroke="#787878" stroke-width="1.19" stroke-linecap="round" stroke-linejoin="round"/>
<rect x="341.9" y="282.9" width="9.5" height="9.6" fill="none" stroke="#bcbcbc" stroke-width="0.8"/><path d="M1,2 L3.2,0 L3.2,8" transform="translate(343.10,284.50) scale(0.600,0.800)" fill="none" stroke="#787878" stroke-width="1.14" stroke-linecap="round" stroke-linejoin="round"/><path d="M4.8,0 L0.5,0 L0.3,3.5 Q1.3,3 2.5,3 Q5,3 5,5.5 Q5,8 2.5,8 Q0,8 0,6.4" transform="translate(347.20,284.50) scale(0.600,0.800)" fill="none" stroke="#787878" stroke-width="1.14" stroke-linecap="round" stroke-linejoin="round"/>
<rect x="370.0" y="279.8" width="9.0" height="9.7" fill="none" stroke="#bcbcbc" stroke-width="0.8"/><path d="M1,2 L3.2,0 L3.2,8" transform="translate(371.20,281.40) scale(0.550,0.812)" fill="none" stroke="#787878" stroke-width="1.17" stroke-linecap="round" stroke-linejoin="round"/><path d="M4.4,0 Q0,0.3 0,5.2 Q0,8 2.5,8 Q5,8 5,5.6 Q5,3.3 2.5,3.3 Q0,3.3 0,5.6" transform="translate(375.05,281.40) scale(0.550,0.812)" fill="none" stroke="#787878" stroke-width="1.17" stroke-linecap="round" stroke-linejoin="round"/>
<rect x="396.7" y="272.0" width="10.4" height="9.7" fill="none" stroke="#bcbcbc" stroke-width="0.8"/><path d="M1,2 L3.2,0 L3.2,8" transform="translate(397.90,273.60) scale(0.690,0.812)" fill="none" stroke="#787878" stroke-width="1.06" stroke-linecap="round" stroke-linejoin="round"/><path d="M0,0 L5,0 L2,8" transform="translate(402.45,273.60) scale(0.690,0.812)" fill="none" stroke="#787878" stroke-width="1.06" stroke-linecap="round" stroke-linejoin="round"/>
<rect x="438.0" y="264.3" width="10.0" height="9.9" fill="none" stroke="#bcbcbc" stroke-width="0.8"/><path d="M1,2 L3.2,0 L3.2,8" transform="translate(439.20,265.90) scale(0.650,0.837)" fill="none" stroke="#787878" stroke-width="1.08" stroke-linecap="round" stroke-linejoin="round"/><path d="M2.5,0 Q0.4,0 0.4,1.8 Q0.4,3.6 2.5,3.6 Q4.6,3.6 4.6,1.8 Q4.6,0 2.5,0 M2.5,3.6 Q0,3.6 0,5.8 Q0,8 2.5,8 Q5,8 5,5.8 Q5,3.6 2.5,3.6" transform="translate(443.55,265.90) scale(0.650,0.837)" fill="none" stroke="#787878" stroke-width="1.08" stroke-linecap="round" stroke-linejoin="round"/>
<rect x="584.4" y="292.5" width="11.2" height="9.5" fill="none" stroke="#bcbcbc" stroke-width="0.8"/><path d="M0,1.8 Q0,0 2.5,0 Q5,0 5,2 Q5,3.6 0,8 L5,8" transform="translate(585.60,294.10) scale(0.770,0.787)" fill="none" stroke="#787878" stroke-width="1.03" stroke-linecap="round" stroke-linejoin="round"/><path d="M1.6,0 Q0,0 0,1.8 L0,6.2 Q0,8 1.6,8 L3.4,8 Q5,8 5,6.2 L5,1.8 Q5,0 3.4,0 Z" transform="translate(590.55,294.10) scale(0.770,0.787)" fill="none" stroke="#787878" stroke-width="1.03" stroke-linecap="round" stroke-linejoin="round"/>
<rect x="587.0" y="357.5" width="10.5" height="8.8" fill="none" stroke="#bcbcbc" stroke-width="0.8"/><path d="M0,1.8 Q0,0 2.5,0 Q5,0 5,2 Q5,3.6 0,8 L5,8" transform="translate(588.20,359.10) scale(0.700,0.700)" fill="none" stroke="#787878" stroke-width="1.14" stroke-linecap="round" stroke-linejoin="round"/><path d="M1,2 L3.2,0 L3.2,8" transform="translate(592.80,359.10) scale(0.700,0.700)" fill="none" stroke="#787878" stroke-width="1.14" stroke-linecap="round" stroke-linejoin="round"/>
<rect x="655.5" y="377.4" width="10.3" height="9.6" fill="none" stroke="#bcbcbc" stroke-width="0.8"/><path d="M0,1.8 Q0,0 2.5,0 Q5,0 5,2 Q5,3.6 0,8 L5,8" transform="translate(656.70,379.00) scale(0.680,0.800)" fill="none" stroke="#787878" stroke-width="1.08" stroke-linecap="round" stroke-linejoin="round"/><path d="M4.4,0 Q0,0.3 0,5.2 Q0,8 2.5,8 Q5,8 5,5.6 Q5,3.3 2.5,3.3 Q0,3.3 0,5.6" transform="translate(661.20,379.00) scale(0.680,0.800)" fill="none" stroke="#787878" stroke-width="1.08" stroke-linecap="round" stroke-linejoin="round"/>
<rect x="693.0" y="354.6" width="10.6" height="9.7" fill="none" stroke="#bcbcbc" stroke-width="0.8"/><path d="M0,1.8 Q0,0 2.5,0 Q5,0 5,2 Q5,3.6 0,8 L5,8" transform="translate(694.20,356.20) scale(0.710,0.812)" fill="none" stroke="#787878" stroke-width="1.05" stroke-linecap="round" stroke-linejoin="round"/><path d="M0.6,8 Q5,7.7 5,2.8 Q5,0 2.5,0 Q0,0 0,2.4 Q0,4.7 2.5,4.7 Q5,4.7 5,2.4" transform="translate(698.85,356.20) scale(0.710,0.812)" fill="none" stroke="#787878" stroke-width="1.05" stroke-linecap="round" stroke-linejoin="round"/>
<rect x="738.6" y="410.6" width="10.4" height="10.0" fill="none" stroke="#bcbcbc" stroke-width="0.8"/><path d="M0,0 L5,0 L2.3,3.1 Q5,3.1 5,5.6 Q5,8 2.5,8 Q0,8 0,6.4" transform="translate(739.80,412.20) scale(0.690,0.850)" fill="none" stroke="#787878" stroke-width="1.04" stroke-linecap="round" stroke-linejoin="round"/><path d="M1.6,0 Q0,0 0,1.8 L0,6.2 Q0,8 1.6,8 L3.4,8 Q5,8 5,6.2 L5,1.8 Q5,0 3.4,0 Z" transform="translate(744.35,412.20) scale(0.690,0.850)" fill="none" stroke="#787878" stroke-width="1.04" stroke-linecap="round" stroke-linejoin="round"/>
<rect x="693.5" y="440.4" width="10.5" height="9.6" fill="none" stroke="#bcbcbc" stroke-width="0.8"/><path d="M0,0 L5,0 L2.3,3.1 Q5,3.1 5,5.6 Q5,8 2.5,8 Q0,8 0,6.4" transform="translate(694.70,442.00) scale(0.700,0.800)" fill="none" stroke="#787878" stroke-width="1.07" stroke-linecap="round" stroke-linejoin="round"/><path d="M3.4,0 L0,5.6 L5,5.6 M3.9,3.4 L3.9,8" transform="translate(699.30,442.00) scale(0.700,0.800)" fill="none" stroke="#787878" stroke-width="1.07" stroke-linecap="round" stroke-linejoin="round"/>
<rect x="512.0" y="566.0" width="11.0" height="9.6" fill="none" stroke="#bcbcbc" stroke-width="0.8"/><path d="M0,0 L5,0 L2.3,3.1 Q5,3.1 5,5.6 Q5,8 2.5,8 Q0,8 0,6.4" transform="translate(513.20,567.60) scale(0.750,0.800)" fill="none" stroke="#787878" stroke-width="1.03" stroke-linecap="round" stroke-linejoin="round"/><path d="M3.4,0 L0,5.6 L5,5.6 M3.9,3.4 L3.9,8" transform="translate(518.05,567.60) scale(0.750,0.800)" fill="none" stroke="#787878" stroke-width="1.03" stroke-linecap="round" stroke-linejoin="round"/>
<rect x="679.5" y="450.0" width="10.5" height="9.6" fill="none" stroke="#e0e0e0" stroke-width="0.8"/><path d="M0,0 L5,0 L2.3,3.1 Q5,3.1 5,5.6 Q5,8 2.5,8 Q0,8 0,6.4" transform="translate(680.70,451.60) scale(0.700,0.800)" fill="none" stroke="#787878" stroke-width="1.07" stroke-linecap="round" stroke-linejoin="round"/><path d="M4.8,0 L0.5,0 L0.3,3.5 Q1.3,3 2.5,3 Q5,3 5,5.5 Q5,8 2.5,8 Q0,8 0,6.4" transform="translate(685.30,451.60) scale(0.700,0.800)" fill="none" stroke="#787878" stroke-width="1.07" stroke-linecap="round" stroke-linejoin="round"/>
<rect x="666.4" y="463.6" width="10.5" height="8.8" fill="none" stroke="#bcbcbc" stroke-width="0.8"/><path d="M0,0 L5,0 L2.3,3.1 Q5,3.1 5,5.6 Q5,8 2.5,8 Q0,8 0,6.4" transform="translate(667.60,465.20) scale(0.700,0.700)" fill="none" stroke="#787878" stroke-width="1.14" stroke-linecap="round" stroke-linejoin="round"/><path d="M4.4,0 Q0,0.3 0,5.2 Q0,8 2.5,8 Q5,8 5,5.6 Q5,3.3 2.5,3.3 Q0,3.3 0,5.6" transform="translate(672.20,465.20) scale(0.700,0.700)" fill="none" stroke="#787878" stroke-width="1.14" stroke-linecap="round" stroke-linejoin="round"/>
<rect x="665.3" y="484.0" width="11.2" height="8.5" fill="none" stroke="#bcbcbc" stroke-width="0.8"/><path d="M0,0 L5,0 L2.3,3.1 Q5,3.1 5,5.6 Q5,8 2.5,8 Q0,8 0,6.4" transform="translate(666.50,485.60) scale(0.770,0.662)" fill="none" stroke="#787878" stroke-width="1.12" stroke-linecap="round" stroke-linejoin="round"/><path d="M0,0 L5,0 L2,8" transform="translate(671.45,485.60) scale(0.770,0.662)" fill="none" stroke="#787878" stroke-width="1.12" stroke-linecap="round" stroke-linejoin="round"/>
<rect x="537.0" y="548.0" width="10.5" height="10.8" fill="none" stroke="#bcbcbc" stroke-width="0.8"/><path d="M0,0 L5,0 L2.3,3.1 Q5,3.1 5,5.6 Q5,8 2.5,8 Q0,8 0,6.4" transform="translate(538.20,549.60) scale(0.700,0.950)" fill="none" stroke="#787878" stroke-width="0.97" stroke-linecap="round" stroke-linejoin="round"/><path d="M0.6,8 Q5,7.7 5,2.8 Q5,0 2.5,0 Q0,0 0,2.4 Q0,4.7 2.5,4.7 Q5,4.7 5,2.4" transform="translate(542.80,549.60) scale(0.700,0.950)" fill="none" stroke="#787878" stroke-width="0.97" stroke-linecap="round" stroke-linejoin="round"/>
<rect x="524.0" y="555.0" width="11.0" height="10.0" fill="none" stroke="#bcbcbc" stroke-width="0.8"/><path d="M3.4,0 L0,5.6 L5,5.6 M3.9,3.4 L3.9,8" transform="translate(525.20,556.60) scale(0.750,0.850)" fill="none" stroke="#787878" stroke-width="1.00" stroke-linecap="round" stroke-linejoin="round"/><path d="M1.6,0 Q0,0 0,1.8 L0,6.2 Q0,8 1.6,8 L3.4,8 Q5,8 5,6.2 L5,1.8 Q5,0 3.4,0 Z" transform="translate(530.05,556.60) scale(0.750,0.850)" fill="none" stroke="#787878" stroke-width="1.00" stroke-linecap="round" stroke-linejoin="round"/>
<rect x="489.4" y="559.4" width="11.2" height="11.2" fill="none" stroke="#bcbcbc" stroke-width="0.8"/><path d="M3.4,0 L0,5.6 L5,5.6 M3.9,3.4 L3.9,8" transform="translate(490.60,561.00) scale(0.770,1.000)" fill="none" stroke="#787878" stroke-width="0.90" stroke-linecap="round" stroke-linejoin="round"/><path d="M1,2 L3.2,0 L3.2,8" transform="translate(495.55,561.00) scale(0.770,1.000)" fill="none" stroke="#787878" stroke-width="0.90" stroke-linecap="round" stroke-linejoin="round"/>
<rect x="430.0" y="555.0" width="12.0" height="11.0" fill="none" stroke="#e0e0e0" stroke-width="0.8"/><path d="M3.4,0 L0,5.6 L5,5.6 M3.9,3.4 L3.9,8" transform="translate(431.20,556.60) scale(0.850,0.975)" fill="none" stroke="#787878" stroke-width="0.88" stroke-linecap="round" stroke-linejoin="round"/><path d="M0,0 L5,0 L2.3,3.1 Q5,3.1 5,5.6 Q5,8 2.5,8 Q0,8 0,6.4" transform="translate(436.55,556.60) scale(0.850,0.975)" fill="none" stroke="#787878" stroke-width="0.88" stroke-linecap="round" stroke-linejoin="round"/>
<rect x="669.0" y="580.0" width="11.0" height="10.0" fill="none" stroke="#e0e0e0" stroke-width="0.8"/><path d="M3.4,0 L0,5.6 L5,5.6 M3.9,3.4 L3.9,8" transform="translate(670.20,581.60) scale(0.750,0.850)" fill="none" stroke="#787878" stroke-width="1.00" stroke-linecap="round" stroke-linejoin="round"/><path d="M3.4,0 L0,5.6 L5,5.6 M3.9,3.4 L3.9,8" transform="translate(675.05,581.60) scale(0.750,0.850)" fill="none" stroke="#787878" stroke-width="1.00" stroke-linecap="round" stroke-linejoin="round"/>
<rect x="479.7" y="263.5" width="10.0" height="8.7" fill="none" stroke="#e0e0e0" stroke-width="0.8"/><path d="M3.4,0 L0,5.6 L5,5.6 M3.9,3.4 L3.9,8" transform="translate(480.90,265.10) scale(0.650,0.687)" fill="none" stroke="#787878" stroke-width="1.20" stroke-linecap="round" stroke-linejoin="round"/><path d="M4.8,0 L0.5,0 L0.3,3.5 Q1.3,3 2.5,3 Q5,3 5,5.5 Q5,8 2.5,8 Q0,8 0,6.4" transform="translate(485.25,265.10) scale(0.650,0.687)" fill="none" stroke="#787878" stroke-width="1.20" stroke-linecap="round" stroke-linejoin="round"/>
<rect x="494.4" y="296.0" width="10.6" height="10.7" fill="#eeaa6c" stroke="#eeaa6c" stroke-width="0.8"/><path d="M1,2 L3.2,0 L3.2,8" transform="translate(495.60,297.60) scale(0.710,0.937)" fill="none" stroke="#fadcbc" stroke-width="1.09" stroke-linecap="round" stroke-linejoin="round"/><path d="M0.6,8 Q5,7.7 5,2.8 Q5,0 2.5,0 Q0,0 0,2.4 Q0,4.7 2.5,4.7 Q5,4.7 5,2.4" transform="translate(500.25,297.60) scale(0.710,0.937)" fill="none" stroke="#fadcbc" stroke-width="1.09" stroke-linecap="round" stroke-linejoin="round"/>
<line x1="347.5" y1="292.5" x2="341.4" y2="306.5" stroke="#555" stroke-width="0.8"/>
<line x1="375" y1="289.5" x2="384" y2="333" stroke="#555" stroke-width="0.8"/>
<line x1="403.8" y1="281.7" x2="413.3" y2="293" stroke="#555" stroke-width="0.8"/>
<line x1="442.5" y1="274.4" x2="443.7" y2="297" stroke="#555" stroke-width="0.8"/>
<line x1="483.8" y1="272.9" x2="479.8" y2="281.6" stroke="#555" stroke-width="0.8"/>
<line x1="494.4" y1="303.1" x2="483.8" y2="308" stroke="#555" stroke-width="0.8"/>
<line x1="440.4" y1="414.5" x2="421" y2="413.6" stroke="#555" stroke-width="0.8"/>
<line x1="344" y1="446.5" x2="337" y2="452" stroke="#555" stroke-width="0.8"/>
<line x1="363" y1="449" x2="367" y2="449.5" stroke="#555" stroke-width="0.8"/>
<line x1="382" y1="543.8" x2="361.5" y2="524" stroke="#555" stroke-width="0.8"/>
<line x1="386" y1="529" x2="382.5" y2="515" stroke="#555" stroke-width="0.8"/>
<line x1="401" y1="517" x2="407" y2="506" stroke="#555" stroke-width="0.8"/>
<line x1="416.5" y1="512.5" x2="450" y2="484" stroke="#555" stroke-width="0.8"/>
<line x1="383.5" y1="576.5" x2="371.5" y2="584.5" stroke="#555" stroke-width="0.8"/>
<line x1="442" y1="559.4" x2="455.6" y2="553.8" stroke="#555" stroke-width="0.8"/>
<line x1="493" y1="559.4" x2="480" y2="517.5" stroke="#555" stroke-width="0.8"/>
<line x1="515" y1="566" x2="498.8" y2="545" stroke="#555" stroke-width="0.8"/>
<line x1="528" y1="555" x2="516" y2="549" stroke="#555" stroke-width="0.8"/>
<line x1="540.6" y1="548" x2="534.4" y2="530" stroke="#555" stroke-width="0.8"/>
<line x1="433" y1="520.5" x2="443" y2="515.5" stroke="#555" stroke-width="0.8"/>
<line x1="432" y1="531.5" x2="449.5" y2="520" stroke="#555" stroke-width="0.8"/>
<line x1="431" y1="548.8" x2="467.5" y2="539.4" stroke="#555" stroke-width="0.8"/>
<text x="350" y="355" font-size="5.4" fill="#666" text-anchor="start">M5x16</text>
<text x="321.4" y="412" font-size="5.4" fill="#666" text-anchor="start">M5</text>
<text x="341.5" y="429.4" font-size="5.4" fill="#666" text-anchor="start">M5x16</text>
<text x="419" y="526.8" font-size="5.4" fill="#666" text-anchor="start">M3x20</text>
<text x="426" y="535.2" font-size="5.4" fill="#666" text-anchor="start">ø3</text>
<text x="424.6" y="552.5" font-size="5.4" fill="#666" text-anchor="start">M6</text>
<text x="553" y="546" font-size="5.4" fill="#666" text-anchor="start">M6x16</text>
<text x="677.8" y="371.3" font-size="5.4" fill="#666" text-anchor="start">M8x16</text>
<text x="643.6" y="388.6" font-size="5.4" fill="#666" text-anchor="start">ø3</text>
<text x="634" y="403.6" font-size="5.4" fill="#666" text-anchor="start">M3</text>
<text x="620" y="410" font-size="5.4" fill="#666" text-anchor="start">M6</text>
<text x="727.6" y="427.6" font-size="5.4" fill="#666" text-anchor="start">ø6</text>
<text x="713.6" y="444" font-size="5.4" fill="#666" text-anchor="start">M3x20</text>
<path d="M630,444.5 L667,503.5" fill="none" stroke="#666" stroke-width="0.8" stroke-linejoin="round" stroke-linecap="round" stroke-dasharray="7 2 1.5 2" />
<path d="M611,507 L644,528" fill="none" stroke="#666" stroke-width="0.8" stroke-linejoin="round" stroke-linecap="round" stroke-dasharray="7 2 1.5 2" />
</g>
</svg>
</body></html>
